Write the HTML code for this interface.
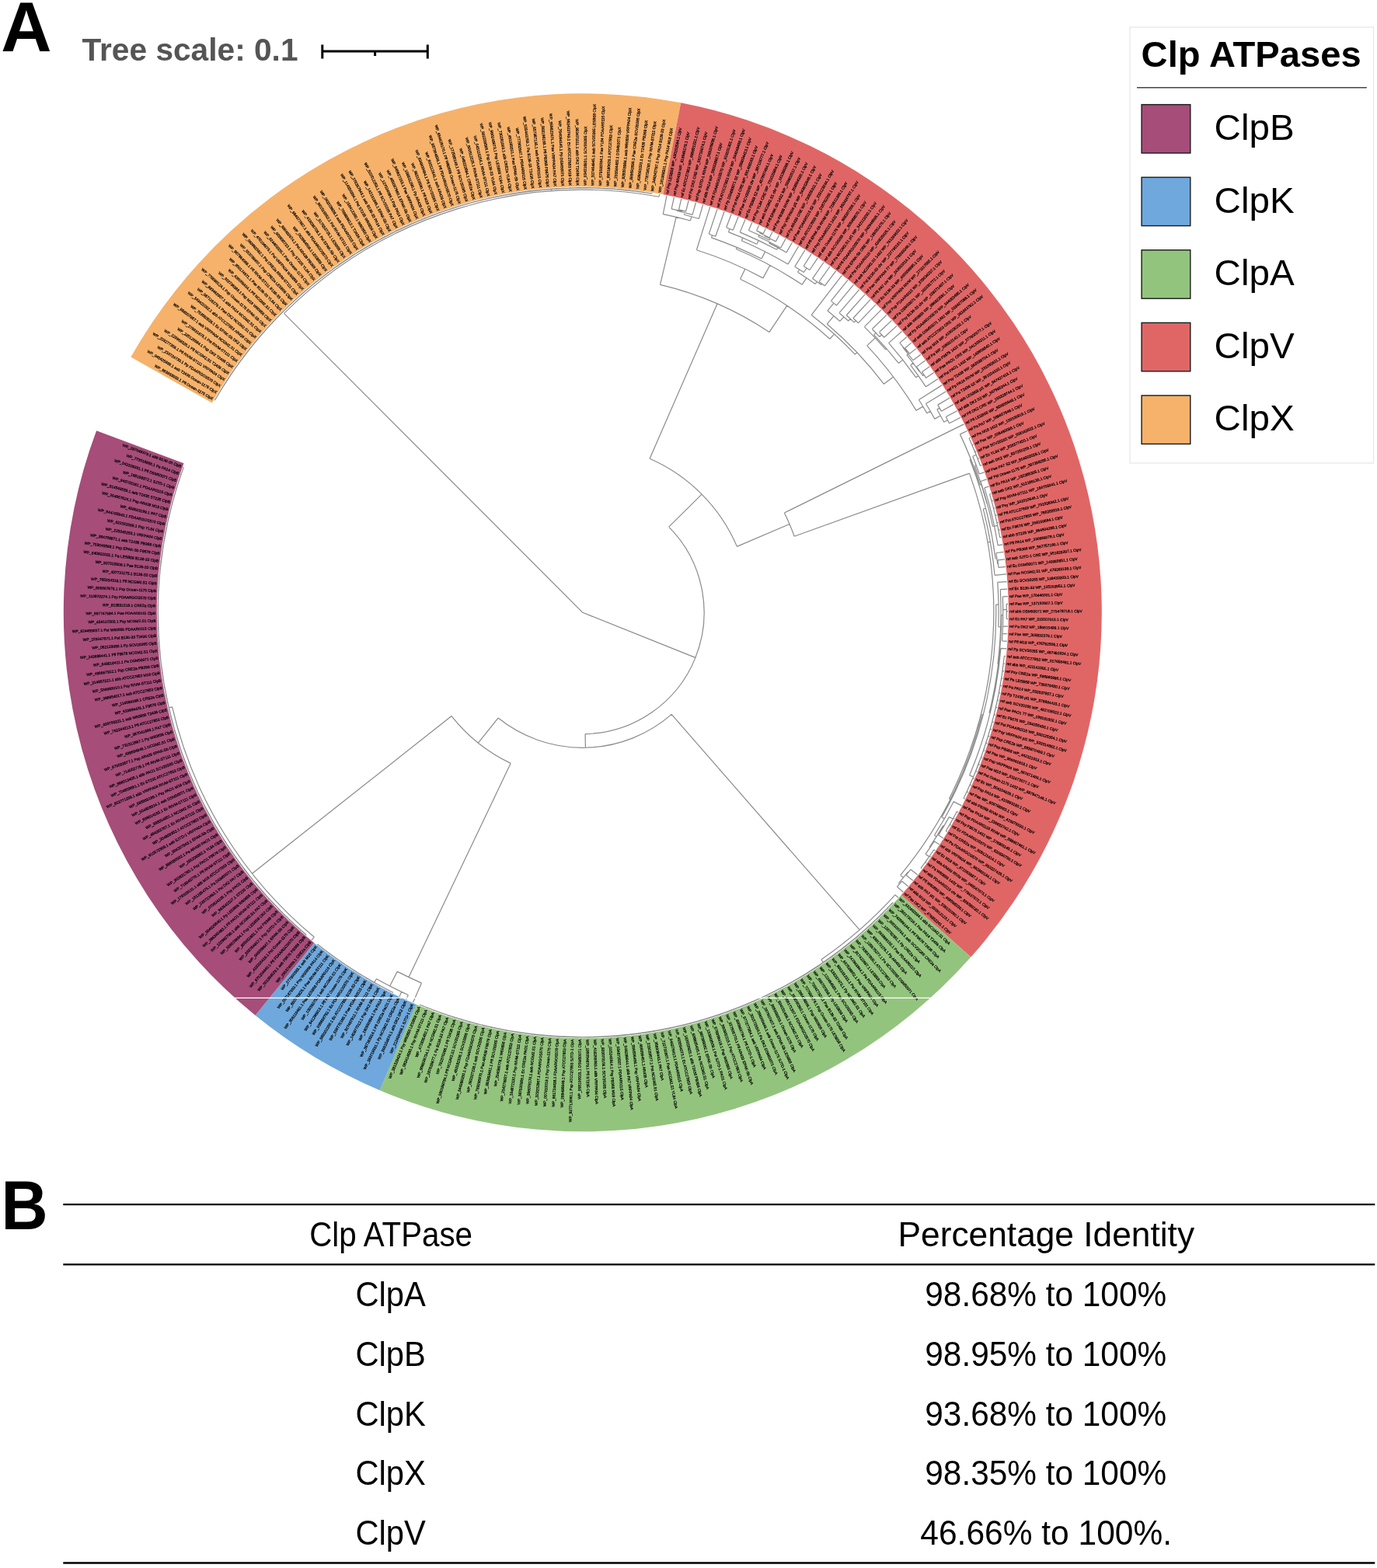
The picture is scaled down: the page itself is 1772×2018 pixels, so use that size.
<!DOCTYPE html>
<html><head><meta charset="utf-8"><title>Clp ATPases phylogeny</title>
<style>
html,body{margin:0;padding:0;background:#fff;}
body{width:1772px;height:2018px;overflow:hidden;position:relative;font-family:"Liberation Sans",Arial,sans-serif;}
svg{position:absolute;left:0;top:0;}
</style></head><body>
<svg width="1772" height="2018" viewBox="0 0 1772 2018">
<g id="ring">
<path d="M168.39,459.39 A668,668 0 0 1 876.17,132.36 L853.47,250.2 A548,548 0 0 0 272.83,518.48 Z" fill="#F6B26B"/>
<path d="M876.17,132.36 A668,668 0 0 1 1249.37,1231.76 L1159.63,1152.09 A548,548 0 0 0 853.47,250.2 Z" fill="#E06666"/>
<path d="M1249.37,1231.76 A668,668 0 0 1 488.76,1403.18 L535.65,1292.73 A548,548 0 0 0 1159.63,1152.09 Z" fill="#93C47D"/>
<path d="M488.76,1403.18 A668,668 0 0 1 328.56,1306.74 L404.23,1213.6 A548,548 0 0 0 535.65,1292.73 Z" fill="#6FA8DC"/>
<path d="M328.56,1306.74 A668,668 0 0 1 124.11,554.33 L236.51,596.36 A548,548 0 0 0 404.23,1213.6 Z" fill="#A64D79"/>
</g>
<path id="tree" d="M749.8 788.3L365.47 403.3M365.47 403.3A544 544 0 0 1 848.02 253.24M709.79 245.77L709.61 243.28M582.45 268.05A546.5 546.5 0 0 1 839.03 249.13M369.79 395.54A546.5 546.5 0 0 1 829.55 247.65M276.52 515.05A546.5 546.5 0 0 1 492.31 306.26M276.52 515.05L275.82 514.65M281.39 506.78A546.5 546.5 0 0 1 776.27 242.44M281.39 506.78L280.7 506.37M732.32 242.08A546.5 546.5 0 0 1 820.05 246.33M654.47 250.18A546.5 546.5 0 0 1 810.52 245.18M514.83 294.89A546.5 546.5 0 0 1 800.98 244.2M300.51 477.17A546.5 546.5 0 0 1 791.42 243.39M286.4 498.61A546.5 546.5 0 0 1 315.61 456.42M286.4 498.61L285.72 498.18M291.56 490.52A546.5 546.5 0 0 1 342.2 424.26M291.56 490.52L290.89 490.08M296.85 482.52A546.5 546.5 0 0 1 394.99 372.64M296.85 482.52L296.19 482.07M302.29 474.62A546.5 546.5 0 0 1 510.25 297.1M302.29 474.62L301.64 474.16M390.65 376.38A546.5 546.5 0 0 1 646.35 251.68M324.26 445.41A546.5 546.5 0 0 1 468.08 320.01M307.87 466.81A546.5 546.5 0 0 1 341.69 424.84M307.87 466.81L307.22 466.34M316.48 455.29A546.5 546.5 0 0 1 369.02 396.29M313.58 459.1A546.5 546.5 0 0 1 319.42 451.5M313.58 459.1L312.94 458.62M319.42 451.5L318.79 451M340.81 425.82A546.5 546.5 0 0 1 399.36 368.95M328.44 440.28A546.5 546.5 0 0 1 353.69 411.79M325.4 443.99A546.5 546.5 0 0 1 331.51 436.6M325.4 443.99L324.78 443.49M331.51 436.6L330.9 436.08M340.91 425.71A546.5 546.5 0 0 1 366.93 398.33M337.75 429.31A546.5 546.5 0 0 1 344.11 422.13M337.75 429.31L337.14 428.78M344.11 422.13L343.52 421.6M355.55 409.84A546.5 546.5 0 0 1 378.65 387.16M350.6 415.07A546.5 546.5 0 0 1 360.57 404.69M350.6 415.07L350.02 414.52M357.21 408.12A546.5 546.5 0 0 1 363.95 401.29M357.21 408.12L356.64 407.56M363.95 401.29L363.38 400.72M370.8 394.57A546.5 546.5 0 0 1 386.64 379.91M370.8 394.57L370.25 394M381.3 384.73A546.5 546.5 0 0 1 392.05 375.17M377.77 387.98A546.5 546.5 0 0 1 384.85 381.51M377.77 387.98L377.23 387.39M384.85 381.51L384.32 380.92M392.05 375.17L391.53 374.56M399.36 368.95L398.84 368.34M406.77 362.87A546.5 546.5 0 0 1 534.67 285.92M406.77 362.87L406.27 362.24M480.82 312.58A546.5 546.5 0 0 1 591.13 265.34M436.97 340.19A546.5 546.5 0 0 1 527.08 289.24M420 352.53A546.5 546.5 0 0 1 454.41 328.51M414.29 356.91A546.5 546.5 0 0 1 425.77 348.23M414.29 356.91L413.8 356.28M421.92 351.09A546.5 546.5 0 0 1 429.64 345.4M421.92 351.09L421.44 350.45M429.64 345.4L429.17 344.75M447.38 333.1A546.5 546.5 0 0 1 461.5 324.03M441.41 337.12A546.5 546.5 0 0 1 453.4 329.16M437.46 339.85A546.5 546.5 0 0 1 445.38 334.44M437.46 339.85L437.01 339.19M445.38 334.44L444.94 333.77M453.4 329.16L452.96 328.49M461.5 324.03L461.08 323.35M482.05 311.88A546.5 546.5 0 0 1 574 270.85M469.7 319.04A546.5 546.5 0 0 1 494.59 305.05M469.7 319.04L469.29 318.35M477.98 314.2A546.5 546.5 0 0 1 511.5 296.49M477.98 314.2L477.58 313.5M490.55 307.2A546.5 546.5 0 0 1 532.89 286.69M486.34 309.5A546.5 546.5 0 0 1 494.78 304.95M486.34 309.5L485.95 308.8M494.78 304.95L494.41 304.24M509.75 297.34A546.5 546.5 0 0 1 556.51 277.12M503.31 300.55A546.5 546.5 0 0 1 516.23 294.23M503.31 300.55L502.95 299.83M511.91 296.29A546.5 546.5 0 0 1 520.58 292.2M511.91 296.29L511.56 295.57M520.58 292.2L520.24 291.47M548.12 280.37A546.5 546.5 0 0 1 564.95 274.01M540.35 283.53A546.5 546.5 0 0 1 555.95 277.34M533.72 286.33A546.5 546.5 0 0 1 547.01 280.82M529.32 288.25A546.5 546.5 0 0 1 538.13 284.46M529.32 288.25L529 287.52M538.13 284.46L537.82 283.72M547.01 280.82L546.71 280.07M555.95 277.34L555.67 276.59M564.95 274.01L564.68 273.26M574 270.85L573.75 270.09M583.11 267.84A546.5 546.5 0 0 1 599.18 262.97M583.11 267.84L582.87 267.08M592.27 265A546.5 546.5 0 0 1 606.11 261.03M592.27 265L592.04 264.23M601.48 262.31A546.5 546.5 0 0 1 610.74 259.79M601.48 262.31L601.27 261.54M610.74 259.79L610.54 259.01M627.04 255.77A546.5 546.5 0 0 1 665.8 248.29M620.04 257.43A546.5 546.5 0 0 1 634.06 254.2M620.04 257.43L619.85 256.65M629.38 255.23A546.5 546.5 0 0 1 638.75 253.2M629.38 255.23L629.2 254.45M638.75 253.2L638.59 252.42M648.16 251.33A546.5 546.5 0 0 1 683.53 245.83M648.16 251.33L648.01 250.55M664.7 248.47A546.5 546.5 0 0 1 702.45 243.86M657.6 249.63A546.5 546.5 0 0 1 671.82 247.39M657.6 249.63L657.47 248.84M667.07 248.1A546.5 546.5 0 0 1 676.57 246.73M667.07 248.1L666.95 247.31M676.57 246.73L676.46 245.94M686.08 245.53A546.5 546.5 0 0 1 718.86 242.68M686.08 245.53L685.99 244.73M702.78 243.83A546.5 546.5 0 0 1 734.95 242M695.62 244.49A546.5 546.5 0 0 1 709.96 243.25M695.62 244.49L695.54 243.7M705.17 243.63A546.5 546.5 0 0 1 714.74 242.93M705.17 243.63L705.11 242.83M714.74 242.93L714.69 242.13M724.32 242.39A546.5 546.5 0 0 1 745.59 241.82M724.32 242.39L724.28 241.6M733.91 242.03A546.5 546.5 0 0 1 757.29 241.85M733.91 242.03L733.88 241.23M743.5 241.84A546.5 546.5 0 0 1 771.07 242.21M743.5 241.84L743.49 241.04M760.28 241.9A546.5 546.5 0 0 1 781.85 242.74M753.09 241.81A546.5 546.5 0 0 1 767.48 242.09M753.09 241.81L753.09 241.01M762.68 241.95A546.5 546.5 0 0 1 772.27 242.26M762.68 241.95L762.7 241.15M772.27 242.26L772.3 241.46M781.85 242.74L781.9 241.94M791.42 243.39L791.48 242.59M800.98 244.2L801.05 243.41M810.52 245.18L810.61 244.39M820.05 246.33L820.15 245.54M829.55 247.65L829.66 246.86M839.03 249.13L839.16 248.34M848.02 253.24L848.62 250M749.8 788.3L894.92 846.34M860.71 678.17A156.3 156.3 0 0 1 753.07 944.57M860.71 678.17L903.07 636.1M836.1 590.29A216 216 0 0 1 948.41 703.38M836.1 590.29L923 390.91M849.53 366.43A433.5 433.5 0 0 1 990.01 427.44M849.53 366.43L870.12 279.33M853.25 275.63A523 523 0 0 1 888.41 284M853.25 275.63L858.05 251.81M888.41 284L889.84 278.8M880.31 276.27A528.4 528.4 0 0 1 899.31 281.5M880.31 276.27L880.96 273.71M870.78 271.22A531.05 531.05 0 0 1 891.1 276.4M870.78 271.22L870.97 270.38M864.14 268.83A531.9 531.9 0 0 1 877.78 272.02M864.14 268.83L867.45 253.8M877.78 272.02L878.02 271.04M873.48 269.94A532.91 532.91 0 0 1 882.56 272.19M873.48 269.94L876.82 255.94M882.56 272.19L886.14 258.25M891.1 276.4L895.42 260.73M899.31 281.5L904.66 263.37M990.01 427.44L1012.73 393.31M952.58 359.31A474.5 474.5 0 0 1 1067.92 436.23M952.58 359.31L958.78 346.2M896.38 321.79A489 489 0 0 1 981.91 357.9M896.38 321.79L913.85 266.17M981.91 357.9L990.8 341.42M947.27 320.56A507.72 507.72 0 0 1 1032.14 366.32M947.27 320.56L948.21 318.33M915.47 305.81A510.14 510.14 0 0 1 980.02 333.06M915.47 305.81L916.53 302.74M912.26 301.29A513.39 513.39 0 0 1 920.79 304.22M912.26 301.29L922.99 269.13M920.79 304.22L932.08 272.25M980.02 333.06L984.66 323.89M954.27 309.73A520.42 520.42 0 0 1 1014.07 339.97M954.27 309.73L955.84 306.08M937.41 298.61A524.39 524.39 0 0 1 973.97 314.24M937.41 298.61L939.02 294.39M934.68 292.75A528.91 528.91 0 0 1 943.35 296.07M934.68 292.75L941.11 275.52M943.35 296.07L950.08 278.96M973.97 314.24L976.21 309.5M952.24 298.88A529.63 529.63 0 0 1 999.62 321.29M952.24 298.88L958.99 282.56M999.62 321.29L1000.97 318.77M989.7 312.91A532.49 532.49 0 0 1 1012.1 324.9M989.7 312.91L990.39 311.54M975.9 304.5A534.03 534.03 0 0 1 1004.66 319.01M975.9 304.5L976.82 302.52M963.42 296.48A536.21 536.21 0 0 1 990.06 308.93M963.42 296.48L967.83 286.31M990.06 308.93L990.98 307.1M983.56 303.45A538.25 538.25 0 0 1 998.34 310.86M983.56 303.45L983.85 302.85M977.44 299.81A538.92 538.92 0 0 1 990.22 305.97M977.44 299.81L977.89 298.84M973.59 296.86A540 540 0 0 1 982.18 300.86M973.59 296.86L976.61 290.21M982.18 300.86L985.32 294.27M990.22 305.97L993.95 298.48M998.34 310.86L1002.52 302.84M1004.66 319.01L1011 307.35M1012.1 324.9L1019.4 312.01M1014.07 339.97L1027.72 316.81M1032.14 366.32L1037.93 357.67M1026.49 350.23A518.14 518.14 0 0 1 1049.17 365.4M1026.49 350.23L1028.67 346.78M1022.84 343.14A522.22 522.22 0 0 1 1034.46 350.49M1022.84 343.14L1035.95 321.76M1034.46 350.49L1038.05 344.97M1034.15 342.45A528.81 528.81 0 0 1 1041.93 347.51M1034.15 342.45L1044.1 326.86M1041.93 347.51L1052.15 332.1M1049.17 365.4L1051.2 362.53M1045.57 358.6A521.65 521.65 0 0 1 1056.78 366.53M1045.57 358.6L1060.11 337.47M1056.78 366.53L1057.72 365.25M1053.99 362.56A523.25 523.25 0 0 1 1061.42 367.97M1053.99 362.56L1067.98 342.99M1061.42 367.97L1075.74 348.64M1067.92 436.23L1073.62 429.93M1044.22 405.41A483 483 0 0 1 1100.36 456.04M1044.22 405.41L1083.41 354.43M1100.36 456.04L1102.92 453.62M1064.22 417.03A486.52 486.52 0 0 1 1137.38 494.22M1064.22 417.03L1073.04 406.62M1065.01 399.96A500.16 500.16 0 0 1 1080.92 413.44M1065.01 399.96L1072.94 390.2M1069.43 387.38A512.74 512.74 0 0 1 1076.42 393.05M1069.43 387.38L1090.97 360.35M1076.42 393.05L1098.43 366.41M1080.92 413.44L1085.89 407.82M1080 402.7A507.66 507.66 0 0 1 1091.69 413.02M1080 402.7L1105.79 372.59M1091.69 413.02L1094.2 410.27M1089.2 405.77A511.39 511.39 0 0 1 1099.15 414.83M1089.2 405.77L1113.03 378.91M1099.15 414.83L1101.24 412.6M1097.93 409.53A514.45 514.45 0 0 1 1104.53 415.7M1097.93 409.53L1120.16 385.34M1104.53 415.7L1127.17 391.91M1137.38 494.22L1149.58 484.96M1115.73 444.88A501.84 501.84 0 0 1 1179.07 528.36M1115.73 444.88L1126.34 434.92M1112.37 420.6A516.4 516.4 0 0 1 1139.75 449.77M1112.37 420.6L1134.07 398.59M1139.75 449.77L1140.91 448.76M1124.61 430.85A517.93 517.93 0 0 1 1156.35 467.41M1124.61 430.85L1127.13 428.44M1122.36 423.51A521.42 521.42 0 0 1 1131.84 433.44M1122.36 423.51L1140.85 405.4M1131.84 433.44L1134.61 430.86M1131.46 427.5A525.21 525.21 0 0 1 1137.74 434.25M1131.46 427.5L1147.51 412.32M1137.74 434.25L1154.05 419.36M1156.35 467.41L1161.82 463.1M1143.65 441.33A524.89 524.89 0 0 1 1178.78 485.83M1143.65 441.33L1160.47 426.51M1178.78 485.83L1181.85 483.66M1171.77 469.84A528.65 528.65 0 0 1 1191.48 497.8M1171.77 469.84L1175.08 467.34M1166.85 456.71A532.81 532.81 0 0 1 1183.05 478.17M1166.85 456.71L1168.47 455.42M1161.81 447.22A534.88 534.88 0 0 1 1174.96 463.75M1161.81 447.22L1162.35 446.78M1157.82 441.37A535.57 535.57 0 0 1 1166.81 452.24M1157.82 441.37L1166.75 433.78M1166.81 452.24L1167.53 451.65M1164.56 448A536.5 536.5 0 0 1 1170.47 455.33M1164.56 448L1172.91 441.15M1170.47 455.33L1178.94 448.63M1174.96 463.75L1184.84 456.21M1183.05 478.17L1183.54 477.81M1179.42 472.13A533.42 533.42 0 0 1 1187.59 483.55M1179.42 472.13L1190.6 463.9M1187.59 483.55L1189.1 482.5M1186.4 478.65A535.26 535.26 0 0 1 1191.77 486.37M1186.4 478.65L1196.22 471.69M1191.77 486.37L1201.71 479.57M1191.48 497.8L1207.06 487.55M1179.07 528.36L1187.72 523.13M1182.4 514.53A511.95 511.95 0 0 1 1192.87 531.83M1182.4 514.53L1212.27 495.63M1192.87 531.83L1197.28 529.27M1191.49 519.52A517.04 517.04 0 0 1 1202.86 539.15M1191.49 519.52L1217.34 503.79M1202.86 539.15L1210.32 535.05M1205.8 527A525.56 525.56 0 0 1 1214.69 543.17M1205.8 527L1209.08 525.13M1206.75 521.11A529.33 529.33 0 0 1 1211.37 529.17M1206.75 521.11L1222.26 512.04M1211.37 529.17L1227.04 520.37M1214.69 543.17L1219.42 540.68M1217.23 536.57A530.91 530.91 0 0 1 1221.58 544.81M1217.23 536.57L1231.66 528.79M1221.58 544.81L1236.15 537.29M948.41 703.38L1015.99 674.49M1009.35 660.06A289.5 289.5 0 0 1 1022.18 690.24M1009.35 660.06L1240.48 545.87M1022.18 690.24L1247.53 609.11M1247.53 609.11A529 529 0 0 1 1221.4 1027.95M1271.03 697.98L1274.36 697.4M1265.25 655.1A532.38 532.38 0 0 1 1280.01 740.3M1265.25 655.1L1268.51 654.25M1248.13 591.57A535.75 535.75 0 0 1 1281.05 718.97M1248.13 591.57L1249.39 591.07M1235.44 558.87A537.11 537.11 0 0 1 1261.2 624.11M1235.44 558.87L1244.66 554.52M1261.2 624.11L1262.84 623.59M1254.38 599.23A538.84 538.84 0 0 1 1270.14 648.32M1254.38 599.23L1256.13 598.57M1251.74 587.23A540.71 540.71 0 0 1 1260.27 610.01M1251.74 587.23L1256.18 585.45M1250.43 571.64A545.5 545.5 0 0 1 1261.55 599.42M1247.04 563.98A545.5 545.5 0 0 1 1253.7 579.36M1247.04 563.98L1248.68 563.24M1250.9 572.74A545.5 545.5 0 0 1 1256.4 586.01M1250.9 572.74L1252.56 572.03M1254.61 581.57A545.5 545.5 0 0 1 1258.16 590.46M1254.61 581.57L1256.28 580.89M1258.16 590.46L1259.84 589.81M1261.55 599.42L1263.24 598.79M1260.27 610.01L1266.49 607.83M1270.14 648.32L1270.51 648.22M1261.91 619.46A539.22 539.22 0 0 1 1277.5 677.41M1261.91 619.46L1269.58 616.93M1277.5 677.41L1279.57 676.98M1273.81 652.41A541.34 541.34 0 0 1 1284.18 701.79M1266.81 627.85A541.34 541.34 0 0 1 1279.63 677.27M1266.81 627.85L1272.51 626.08M1279.63 677.27L1283.7 676.42M1280.29 661.23A545.5 545.5 0 0 1 1286.68 691.69M1276.77 647.31A545.5 545.5 0 0 1 1283.46 675.25M1274.86 640.39A545.5 545.5 0 0 1 1278.58 654.26M1273.55 635.78A545.5 545.5 0 0 1 1276.14 645M1273.55 635.78L1275.27 635.28M1276.14 645L1277.88 644.53M1278.58 654.26L1280.32 653.82M1281.92 668.23A545.5 545.5 0 0 1 1284.9 682.28M1280.85 663.56A545.5 545.5 0 0 1 1282.95 672.9M1280.85 663.56L1282.6 663.15M1282.95 672.9L1284.71 672.52M1284.9 682.28L1286.66 681.93M1286.68 691.69L1288.45 691.37M1284.18 701.79L1290.07 700.84M1281.05 718.97L1282.87 718.73M1281.91 711.72A537.59 537.59 0 0 1 1283.74 725.76M1281.91 711.72L1291.52 710.34M1283.74 725.76L1284.51 725.67M1283.94 720.97A538.37 538.37 0 0 1 1285.04 730.36M1283.94 720.97L1292.8 719.86M1285.04 730.36L1293.92 729.4M1280.01 740.3L1294.87 738.96M1221.4 1027.95L1222.81 1028.66M1263.95 919.28A530.57 530.57 0 0 1 1158.71 1126.38M1263.95 919.28L1265.31 919.63M1281.68 778.1A531.97 531.97 0 0 1 1211.97 1051.73M1281.68 778.1L1285.02 778.04M1283.7 749.4A535.32 535.32 0 0 1 1284.8 806.7M1283.7 749.4L1295.65 748.53M1284.8 806.7L1287.75 806.8M1287.25 758.62A538.27 538.27 0 0 1 1283.94 854.83M1287.25 758.62L1296.27 758.12M1283.94 854.83L1284.6 854.91M1288.72 791.53A538.93 538.93 0 0 1 1273.05 917.36M1288.72 791.53L1290.68 791.54M1290.31 767.96A540.89 540.89 0 0 1 1290.02 815.12M1290.31 767.96L1296.71 767.72M1290.42 805.34A540.89 540.89 0 0 1 1289.45 824.89M1290.64 795.25A540.89 540.89 0 0 1 1290.01 815.42M1290.68 784.57A540.89 540.89 0 0 1 1290.4 805.93M1290.68 784.57L1295.29 784.54M1295.19 777.36A545.5 545.5 0 0 1 1295.29 791.72M1295.19 777.36L1296.99 777.32M1295.3 786.93A545.5 545.5 0 0 1 1295.24 796.51M1295.3 786.93L1297.1 786.93M1295.24 796.51L1297.04 796.53M1290.4 805.93L1296.81 806.14M1290.01 815.42L1296.41 815.74M1289.45 824.89L1295.85 825.33M1273.05 917.36L1274.21 917.65M1287.97 834.3A540.13 540.13 0 0 1 1247.63 997.83M1287.97 834.3L1295.11 834.91M1247.63 997.83L1252.58 999.92M1263.54 971.7A545.5 545.5 0 0 1 1240.07 1027.48M1278.42 922.97A545.5 545.5 0 0 1 1244.19 1018.84M1292.42 844.29A545.5 545.5 0 0 1 1253.06 998.77M1292.42 844.29L1294.21 844.47M1257.71 987.3A545.5 545.5 0 0 1 1248.16 1010.12M1263.04 973.1A545.5 545.5 0 0 1 1251.98 1001.34M1269.7 953.44A545.5 545.5 0 0 1 1255.64 992.5M1278.48 922.72A545.5 545.5 0 0 1 1259.15 983.59M1289.22 869.5A545.5 545.5 0 0 1 1262.5 974.61M1291.35 853.8A545.5 545.5 0 0 1 1286.64 885.13M1291.35 853.8L1293.14 854.02M1290.12 863.3A545.5 545.5 0 0 1 1282.27 906.8M1290.12 863.3L1291.9 863.55M1288.72 872.77A545.5 545.5 0 0 1 1273.68 940.34M1288.72 872.77L1290.5 873.05M1280.44 914.74A545.5 545.5 0 0 1 1265.69 965.59M1283.77 899.85A545.5 545.5 0 0 1 1276.7 929.54M1285.87 889.28A545.5 545.5 0 0 1 1281.47 910.37M1287.15 882.22A545.5 545.5 0 0 1 1284.5 896.33M1287.15 882.22L1288.93 882.53M1285.42 891.63A545.5 545.5 0 0 1 1283.53 901.02M1285.42 891.63L1287.19 891.98M1283.53 901.02L1285.29 901.39M1281.47 910.37L1283.22 910.77M1279.24 919.68A545.5 545.5 0 0 1 1273.97 939.34M1279.24 919.68L1280.99 920.12M1276.85 928.96A545.5 545.5 0 0 1 1270.89 949.66M1276.85 928.96L1278.59 929.42M1272.97 942.78A545.5 545.5 0 0 1 1268.72 956.5M1274.3 938.19A545.5 545.5 0 0 1 1271.59 947.37M1274.3 938.19L1276.03 938.68M1271.59 947.37L1273.31 947.89M1268.72 956.5L1270.43 957.06M1265.69 965.59L1267.39 966.17M1262.5 974.61L1264.19 975.23M1259.15 983.59L1260.83 984.23M1255.64 992.5L1257.31 993.17M1251.98 1001.34L1253.64 1002.05M1248.16 1010.12L1249.81 1010.86M1244.19 1018.84L1245.82 1019.6M1240.07 1027.48L1241.69 1028.27M1211.97 1051.73L1215.3 1053.63M1227.16 1031.65A535.81 535.81 0 0 1 1202.43 1075.04M1227.16 1031.65L1237.4 1036.87M1202.43 1075.04L1205.08 1076.72M1213.72 1062.6A538.94 538.94 0 0 1 1196 1090.57M1213.72 1062.6L1214.69 1063.17M1221.48 1051.36A540.07 540.07 0 0 1 1207.61 1074.82M1221.48 1051.36L1226.22 1054M1231.37 1044.54A545.5 545.5 0 0 1 1220.88 1063.36M1231.37 1044.54L1232.96 1045.39M1224.46 1057.13A545.5 545.5 0 0 1 1217.22 1069.53M1226.8 1052.96A545.5 545.5 0 0 1 1222.08 1061.29M1226.8 1052.96L1228.37 1053.83M1222.08 1061.29L1223.64 1062.19M1217.22 1069.53L1218.76 1070.46M1207.61 1074.82L1213.73 1078.65M1196 1090.57L1196.7 1091.04M1202.27 1082.65A539.79 539.79 0 0 1 1190.97 1099.32M1202.27 1082.65L1208.57 1086.75M1190.97 1099.32L1195.64 1102.61M1201.76 1093.75A545.5 545.5 0 0 1 1189.35 1111.36M1201.76 1093.75L1203.26 1094.76M1193.57 1105.54A545.5 545.5 0 0 1 1185.06 1117.11M1196.33 1101.63A545.5 545.5 0 0 1 1190.76 1109.42M1196.33 1101.63L1197.81 1102.67M1190.76 1109.42L1192.22 1110.48M1185.06 1117.11L1186.5 1118.2M1158.71 1126.38L1162.52 1129.53M1168.45 1122.24A535.52 535.52 0 0 1 1156.47 1136.73M1168.45 1122.24L1168.96 1122.64M1171.88 1118.95A536.17 536.17 0 0 1 1166.01 1126.31M1171.88 1118.95L1180.64 1125.81M1166.01 1126.31L1174.65 1133.32M1156.47 1136.73L1157.54 1137.64M1160.59 1134.05A536.93 536.93 0 0 1 1154.46 1141.21M1160.59 1134.05L1168.53 1140.73M1154.46 1141.21L1162.28 1148.02M753.07 944.57L753.44 962.26M864.18 919.42A174 174 0 0 1 641.01 924.09M864.18 919.42L1106.1 1196.73M1151.97 1151.66A542 542 0 0 1 1056.76 1235M1151.97 1151.66L1155.9 1155.21M1056.76 1235L1059.31 1238.7M1148.81 1161.73A546.5 546.5 0 0 1 955.37 1294.66M1148.81 1161.73L1149.4 1162.28M1142.19 1168.68A546.5 546.5 0 0 1 733.61 1334.56M1142.19 1168.68L1142.77 1169.24M847 1326.09A546.5 546.5 0 0 1 620.92 1319.39M1030.62 1257.13A546.5 546.5 0 0 1 650.86 1325.77M1126.87 1183.88A546.5 546.5 0 0 1 920.61 1307.42M1132.04 1178.88A546.5 546.5 0 0 1 1121.63 1188.81M1135.46 1175.51A546.5 546.5 0 0 1 1128.6 1182.22M1135.46 1175.51L1136.02 1176.08M1128.6 1182.22L1129.16 1182.79M1121.63 1188.81L1122.17 1189.39M1022.93 1261.65A546.5 546.5 0 0 1 811.11 1331.35M1056.94 1240.33A546.5 546.5 0 0 1 987.45 1280.42M1100.44 1207.49A546.5 546.5 0 0 1 1010.39 1268.67M1110.96 1198.46A546.5 546.5 0 0 1 1089.69 1216.25M1114.54 1195.27A546.5 546.5 0 0 1 1107.34 1201.61M1114.54 1195.27L1115.08 1195.87M1107.34 1201.61L1107.87 1202.22M1100.03 1207.82A546.5 546.5 0 0 1 1079.14 1224.41M1100.03 1207.82L1100.55 1208.44M1088.87 1216.9A546.5 546.5 0 0 1 1069.25 1231.71M1092.61 1213.91A546.5 546.5 0 0 1 1085.09 1219.86M1092.61 1213.91L1093.12 1214.53M1085.09 1219.86L1085.58 1220.49M1077.46 1225.68A546.5 546.5 0 0 1 1060.93 1237.59M1077.46 1225.68L1077.94 1226.32M1069.74 1231.36A546.5 546.5 0 0 1 1051.99 1243.65M1069.74 1231.36L1070.21 1232.01M1057.96 1239.63A546.5 546.5 0 0 1 1045.97 1247.59M1061.91 1236.91A546.5 546.5 0 0 1 1053.99 1242.32M1061.91 1236.91L1062.37 1237.56M1053.99 1242.32L1054.43 1242.98M1045.97 1247.59L1046.41 1248.26M1020.35 1263.13A546.5 546.5 0 0 1 1000.32 1274M1027.61 1258.92A546.5 546.5 0 0 1 1013.02 1267.23M1033.78 1255.22A546.5 546.5 0 0 1 1021.39 1262.54M1037.87 1252.71A546.5 546.5 0 0 1 1029.67 1257.7M1037.87 1252.71L1038.29 1253.39M1029.67 1257.7L1030.08 1258.39M1021.39 1262.54L1021.78 1263.23M1013.02 1267.23L1013.41 1267.93M1004.57 1271.78A546.5 546.5 0 0 1 996.05 1276.18M1004.57 1271.78L1004.95 1272.49M996.05 1276.18L996.41 1276.89M987.45 1280.42L987.79 1281.14M957.24 1293.9A546.5 546.5 0 0 1 660.3 1327.42M974.41 1286.51A546.5 546.5 0 0 1 939.82 1300.7M978.77 1284.52A546.5 546.5 0 0 1 970.03 1288.46M978.77 1284.52L979.11 1285.25M970.03 1288.46L970.35 1289.19M956.78 1294.09A546.5 546.5 0 0 1 922.65 1306.75M961.21 1292.25A546.5 546.5 0 0 1 952.34 1295.88M961.21 1292.25L961.52 1292.99M952.34 1295.88L952.63 1296.63M943.39 1299.36A546.5 546.5 0 0 1 901.62 1313.29M943.39 1299.36L943.68 1300.11M927.61 1305.07A546.5 546.5 0 0 1 875.25 1320.21M934.39 1302.68A546.5 546.5 0 0 1 920.79 1307.36M934.39 1302.68L934.66 1303.43M925.34 1305.84A546.5 546.5 0 0 1 916.23 1308.84M925.34 1305.84L925.59 1306.6M916.23 1308.84L916.47 1309.6M902.46 1313.04A546.5 546.5 0 0 1 847.7 1325.96M907.06 1311.68A546.5 546.5 0 0 1 897.85 1314.36M907.06 1311.68L907.29 1312.45M897.85 1314.36L898.07 1315.13M888.6 1316.88A546.5 546.5 0 0 1 806.23 1331.88M888.6 1316.88L888.8 1317.65M879.3 1319.24A546.5 546.5 0 0 1 732.13 1334.51M879.3 1319.24L879.49 1320.01M794.71 1332.95A546.5 546.5 0 0 1 669.78 1328.91M869.96 1321.43A546.5 546.5 0 0 1 718.6 1333.91M869.96 1321.43L870.13 1322.21M758.08 1334.74A546.5 546.5 0 0 1 679.28 1330.23M827.22 1329.29A546.5 546.5 0 0 1 688.81 1331.39M855.88 1324.41A546.5 546.5 0 0 1 798.34 1332.64M860.58 1323.45A546.5 546.5 0 0 1 851.17 1325.32M860.58 1323.45L860.74 1324.24M851.17 1325.32L851.32 1326.1M827.51 1329.25A546.5 546.5 0 0 1 769.02 1334.46M837 1327.8A546.5 546.5 0 0 1 818.01 1330.53M841.73 1327.01A546.5 546.5 0 0 1 832.26 1328.54M841.73 1327.01L841.86 1327.8M832.26 1328.54L832.38 1329.33M822.76 1329.91A546.5 546.5 0 0 1 813.24 1331.1M822.76 1329.91L822.87 1330.7M813.24 1331.1L813.34 1331.9M798.93 1332.59A546.5 546.5 0 0 1 739.04 1334.69M803.71 1332.13A546.5 546.5 0 0 1 794.15 1333M803.71 1332.13L803.79 1332.93M794.15 1333L794.22 1333.79M769.62 1334.44A546.5 546.5 0 0 1 708.5 1333.24M784.59 1333.69A546.5 546.5 0 0 1 754.63 1334.78M784.59 1333.69L784.64 1334.49M763.02 1334.64A546.5 546.5 0 0 1 746.24 1334.79M770.21 1334.42A546.5 546.5 0 0 1 755.83 1334.77M775.01 1334.22A546.5 546.5 0 0 1 765.42 1334.58M775.01 1334.22L775.04 1335.02M765.42 1334.58L765.44 1335.38M755.83 1334.77L755.84 1335.57M746.24 1334.79L746.23 1335.59M718.67 1333.91A546.5 546.5 0 0 1 698.35 1332.37M729.45 1334.42A546.5 546.5 0 0 1 707.91 1333.19M736.65 1334.64A546.5 546.5 0 0 1 722.27 1334.11M736.65 1334.64L736.63 1335.44M727.06 1334.33A546.5 546.5 0 0 1 717.48 1333.84M727.06 1334.33L727.02 1335.13M717.48 1333.84L717.43 1334.64M707.91 1333.19L707.84 1333.99M698.35 1332.37L698.27 1333.17M688.81 1331.39L688.72 1332.18M679.28 1330.23L679.18 1331.02M669.78 1328.91L669.66 1329.7M660.3 1327.42L660.17 1328.21M650.86 1325.77L650.71 1326.56M641.44 1323.95A546.5 546.5 0 0 1 600.59 1314.04M641.44 1323.95L641.28 1324.73M632.05 1321.96A546.5 546.5 0 0 1 569.65 1304.25M632.05 1321.96L631.88 1322.75M599.22 1313.65A546.5 546.5 0 0 1 540.66 1293.2M615.72 1318.1A546.5 546.5 0 0 1 582.87 1308.68M622.7 1319.82A546.5 546.5 0 0 1 608.75 1316.28M622.7 1319.82L622.52 1320.59M613.39 1317.5A546.5 546.5 0 0 1 604.12 1315.03M613.39 1317.5L613.19 1318.28M604.12 1315.03L603.91 1315.8M594.9 1312.39A546.5 546.5 0 0 1 570.92 1304.7M594.9 1312.39L594.67 1313.16M581.16 1308.13A546.5 546.5 0 0 1 560.76 1301.06M585.73 1309.59A546.5 546.5 0 0 1 576.6 1306.63M585.73 1309.59L585.49 1310.35M576.6 1306.63L576.35 1307.39M567.53 1303.51A546.5 546.5 0 0 1 554.03 1298.53M567.53 1303.51L567.26 1304.26M558.51 1300.23A546.5 546.5 0 0 1 549.56 1296.79M558.51 1300.23L558.23 1300.98M549.56 1296.79L549.26 1297.54M540.66 1293.2L540.36 1293.94M641.01 924.09L615.37 956.09M657.24 982.36A215 215 0 0 1 581.07 921.55M581.07 921.55L324.45 1124.22M404.33 1205.93A542 542 0 0 1 221.63 909.94M404.33 1205.93L400.95 1210.02M221.63 909.94L217.24 910.95M272.35 1054.2A546.5 546.5 0 0 1 204.14 758.02M377.44 1188.31A546.5 546.5 0 0 1 213.67 894.24M394.13 1203.22A546.5 546.5 0 0 1 361.37 1172.73M394.13 1203.22L393.61 1203.83M378.02 1188.85A546.5 546.5 0 0 1 345.41 1155.91M383.33 1193.71A546.5 546.5 0 0 1 372.78 1183.92M386.9 1196.91A546.5 546.5 0 0 1 379.78 1190.48M386.9 1196.91L386.37 1197.51M379.78 1190.48L379.24 1191.07M372.78 1183.92L372.23 1184.5M365.89 1177.25A546.5 546.5 0 0 1 326.12 1133.49M365.89 1177.25L365.33 1177.81M359.13 1170.45A546.5 546.5 0 0 1 296.6 1093.7M359.13 1170.45L358.55 1171.01M352.48 1163.53A546.5 546.5 0 0 1 252.85 1015.69M352.48 1163.53L351.9 1164.08M313.3 1117.13A546.5 546.5 0 0 1 215.61 903.64M341.14 1151.15A546.5 546.5 0 0 1 288.28 1080.98M345.95 1156.5A546.5 546.5 0 0 1 336.4 1145.74M345.95 1156.5L345.36 1157.04M339.55 1149.35A546.5 546.5 0 0 1 333.28 1142.1M339.55 1149.35L338.95 1149.88M333.28 1142.1L332.67 1142.61M320.37 1126.32A546.5 546.5 0 0 1 260.95 1032.62M327.13 1134.73A546.5 546.5 0 0 1 313.78 1117.77M327.13 1134.73L326.51 1135.24M318.16 1123.48A546.5 546.5 0 0 1 309.48 1112M321.12 1127.26A546.5 546.5 0 0 1 315.23 1119.68M321.12 1127.26L320.49 1127.75M315.23 1119.68L314.6 1120.17M309.48 1112L308.84 1112.48M295.04 1091.38A546.5 546.5 0 0 1 234.42 970.08M301.11 1100.3A546.5 546.5 0 0 1 289.14 1082.34M303.87 1104.22A546.5 546.5 0 0 1 298.39 1096.35M303.87 1104.22L303.22 1104.69M298.39 1096.35L297.73 1096.8M293.06 1088.38A546.5 546.5 0 0 1 285.31 1076.25M293.06 1088.38L292.39 1088.82M287.86 1080.31A546.5 546.5 0 0 1 282.8 1072.16M287.86 1080.31L287.18 1080.74M282.8 1072.16L282.12 1072.58M257.23 1025.01A546.5 546.5 0 0 1 217.72 913M275.49 1059.77A546.5 546.5 0 0 1 241.5 989.04M277.89 1063.92A546.5 546.5 0 0 1 273.13 1055.59M277.89 1063.92L277.2 1064.32M273.13 1055.59L272.43 1055.99M255.29 1020.95A546.5 546.5 0 0 1 229.77 956.31M264.59 1039.76A546.5 546.5 0 0 1 246.73 1001.8M268.51 1047.19A546.5 546.5 0 0 1 260.79 1032.28M268.51 1047.19L267.81 1047.57M264.04 1038.7A546.5 546.5 0 0 1 257.62 1025.82M264.04 1038.7L263.33 1039.07M259.72 1030.13A546.5 546.5 0 0 1 255.55 1021.49M259.72 1030.13L259 1030.49M255.55 1021.49L254.83 1021.84M249.58 1008.4A546.5 546.5 0 0 1 243.96 995.16M251.53 1012.78A546.5 546.5 0 0 1 247.67 1004M251.53 1012.78L250.8 1013.11M247.67 1004L246.93 1004.32M243.96 995.16L243.22 995.46M236.19 975.02A546.5 546.5 0 0 1 224.03 937.37M238.69 981.77A546.5 546.5 0 0 1 233.77 968.24M240.41 986.24A546.5 546.5 0 0 1 237.01 977.27M240.41 986.24L239.66 986.53M237.01 977.27L236.26 977.55M233.77 968.24L233.02 968.51M227.07 947.73A546.5 546.5 0 0 1 221.18 926.96M229.22 954.6A546.5 546.5 0 0 1 225.02 940.83M230.7 959.16A546.5 546.5 0 0 1 227.78 950.02M230.7 959.16L229.94 959.41M227.78 950.02L227.01 950.26M225.02 940.83L224.25 941.06M222.42 931.6A546.5 546.5 0 0 1 219.99 922.32M222.42 931.6L221.65 931.81M219.99 922.32L219.21 922.51M217.72 913L216.94 913.18M215.61 903.64L214.83 903.81M213.67 894.24L212.88 894.4M204.8 828.71A546.5 546.5 0 0 1 212.61 687.85M209.74 871.96A546.5 546.5 0 0 1 203.31 785.2M211.89 884.82A546.5 546.5 0 0 1 207.9 859.05M211.89 884.82L211.1 884.96M209.54 870.62A546.5 546.5 0 0 1 206.51 847.44M210.28 875.36A546.5 546.5 0 0 1 208.83 865.88M210.28 875.36L209.49 875.49M208.83 865.88L208.04 865.99M207.56 856.37A546.5 546.5 0 0 1 205.61 838.49M207.56 856.37L206.76 856.47M206.44 846.84A546.5 546.5 0 0 1 204.9 830.13M206.44 846.84L205.65 846.93M205.5 837.3A546.5 546.5 0 0 1 204.4 822.95M205.5 837.3L204.7 837.37M204.72 827.73A546.5 546.5 0 0 1 204.12 818.16M204.72 827.73L203.93 827.79M204.12 818.16L203.32 818.2M203.43 800.19A546.5 546.5 0 0 1 203.6 770.21M203.68 808.58A546.5 546.5 0 0 1 203.31 791.79M203.68 808.58L202.88 808.61M203.4 798.99A546.5 546.5 0 0 1 203.31 784.6M203.4 798.99L202.6 799M203.3 789.4A546.5 546.5 0 0 1 203.37 779.8M203.3 789.4L202.5 789.4M203.37 779.8L202.57 779.79M203.6 770.21L202.8 770.19M204.26 755.84A546.5 546.5 0 0 1 229.4 621.44M204 760.63A546.5 546.5 0 0 1 204.57 751.05M204 760.63L203.2 760.59M204.57 751.05L203.77 751M223.32 641.74A546.5 546.5 0 0 1 236.26 601.39M215.48 673.58A546.5 546.5 0 0 1 233.06 610.43M207.37 721.7A546.5 546.5 0 0 1 227.84 626.38M205.31 741.49A546.5 546.5 0 0 1 210.16 702M205.31 741.49L204.51 741.42M206.21 731.94A546.5 546.5 0 0 1 215.75 672.32M206.21 731.94L205.42 731.86M210.85 697.78A546.5 546.5 0 0 1 221.85 647.12M208.2 715.27A546.5 546.5 0 0 1 214.06 680.39M207.29 722.41A546.5 546.5 0 0 1 209.21 708.15M207.29 722.41L206.49 722.31M208.53 712.89A546.5 546.5 0 0 1 209.93 703.4M208.53 712.89L207.73 712.78M209.93 703.4L209.14 703.28M211.51 693.94A546.5 546.5 0 0 1 216.95 666.91M211.51 693.94L210.72 693.8M214.66 677.45A546.5 546.5 0 0 1 219.45 656.41M213.25 684.51A546.5 546.5 0 0 1 216.17 670.42M213.25 684.51L212.46 684.36M215.15 675.11A546.5 546.5 0 0 1 217.22 665.74M215.15 675.11L214.37 674.94M217.22 665.74L216.44 665.56M219.45 656.41L218.68 656.22M221.85 647.12L221.08 646.91M225.75 633.27A546.5 546.5 0 0 1 230.01 619.53M224.41 637.87A546.5 546.5 0 0 1 227.13 628.68M224.41 637.87L223.64 637.65M227.13 628.68L226.37 628.44M230.01 619.53L229.25 619.28M233.06 610.43L232.3 610.17M236.26 601.39L235.51 601.11M657.24 982.36L525.93 1257.64M542.4 1265.15A520 520 0 0 1 511.3 1250.38M542.4 1265.15L531.51 1290.19M511.3 1250.38L501.67 1269.04M525.35 1280.54A541 541 0 0 1 500.44 1268.41M525.35 1280.54L522.74 1286.28M516.75 1276.53A541 541 0 0 1 484.42 1259.74M516.75 1276.53L514.03 1282.21M484.42 1259.74L481.73 1264.53M501.47 1275.12A546.5 546.5 0 0 1 462.43 1253.14M505.76 1277.28A546.5 546.5 0 0 1 497.21 1272.92M505.76 1277.28L505.4 1278M497.21 1272.92L496.84 1273.63M484.54 1266.11A546.5 546.5 0 0 1 440.95 1239.16M488.74 1268.42A546.5 546.5 0 0 1 480.36 1263.76M488.74 1268.42L488.36 1269.12M480.36 1263.76L479.96 1264.46M461.79 1252.75A546.5 546.5 0 0 1 420.75 1224.64M467.93 1256.5A546.5 546.5 0 0 1 455.7 1248.92M472.05 1258.96A546.5 546.5 0 0 1 463.83 1254.01M472.05 1258.96L471.65 1259.65M463.83 1254.01L463.42 1254.69M455.7 1248.92L455.27 1249.59M432.84 1233.5A546.5 546.5 0 0 1 408.91 1215.45M443.68 1241.02A546.5 546.5 0 0 1 422.19 1225.72M447.66 1243.69A546.5 546.5 0 0 1 439.72 1238.31M447.66 1243.69L447.22 1244.35M439.72 1238.31L439.26 1238.97M427.98 1229.99A546.5 546.5 0 0 1 416.46 1221.37M431.87 1232.8A546.5 546.5 0 0 1 424.11 1227.15M431.87 1232.8L431.4 1233.45M424.11 1227.15L423.64 1227.79M416.46 1221.37L415.97 1222M408.91 1215.45L408.41 1216.07" fill="none" stroke="#8a8a8a" stroke-width="1.2"/>
<g id="labels" font-family="Liberation Sans, Arial, sans-serif" font-weight="normal" font-size="4.9" fill="#000" stroke="#000" stroke-width="0.22">
<text transform="translate(273.92 513.55) rotate(390)" dy="1.6" text-anchor="end">WP_993363555.1 Pfl Ocean-1175 ClpX</text>
<text transform="translate(278.81 505.24) rotate(391.01)" dy="1.6" text-anchor="end">WP_945425699.1 aeb T2436 Ocean-1175 ClpX</text>
<text transform="translate(283.86 497.02) rotate(392.01)" dy="1.6" text-anchor="end">WP_210724730.1 Pp FDAARGOS570 ClpX</text>
<text transform="translate(289.04 488.88) rotate(393.02)" dy="1.6" text-anchor="end">WP_203277356.1 Pfl RIVM-ST111 VRFPA04 ClpX</text>
<text transform="translate(294.37 480.84) rotate(394.02)" dy="1.6" text-anchor="end">WP_229968326.1 Pfl NCGM2.S1 T2436 ClpX</text>
<text transform="translate(299.83 472.89) rotate(395.03)" dy="1.6" text-anchor="end">WP_225125684.1 Psp DK2 T2436 ClpX</text>
<text transform="translate(305.44 465.04) rotate(396.03)" dy="1.6" text-anchor="end">WP_276931675.1 Pst RIVM-ST111 ClpX</text>
<text transform="translate(311.18 457.29) rotate(397.04)" dy="1.6" text-anchor="end">WP_986007987.1 aeb VRFPA04 NCGM2.S1 ClpX</text>
<text transform="translate(317.06 449.65) rotate(398.05)" dy="1.6" text-anchor="end">WP_753660826.1 Ec EPAK-Sb DK2 ClpX</text>
<text transform="translate(323.07 442.1) rotate(399.05)" dy="1.6" text-anchor="end">WP_343421092.1 abb ATCC27853 AR439 ClpX</text>
<text transform="translate(329.21 434.67) rotate(400.06)" dy="1.6" text-anchor="end">WP_087116279.1 Pae DK2 NCGM2.S1 ClpX</text>
<text transform="translate(335.49 427.34) rotate(401.06)" dy="1.6" text-anchor="end">WP_883462907.1 abb PA14 NCGM2.S1 ClpX</text>
<text transform="translate(341.88 420.12) rotate(402.07)" dy="1.6" text-anchor="end">WP_770096124.1 Psp Ocean-1175 EPAK-Sb ClpX</text>
<text transform="translate(348.41 413.02) rotate(403.07)" dy="1.6" text-anchor="end">WP_302796988.1 Psp M18 W60856 ClpX</text>
<text transform="translate(355.06 406.03) rotate(404.08)" dy="1.6" text-anchor="end">WP_436068434.1 Pfl NCGM2.S1 ClpX</text>
<text transform="translate(361.83 399.16) rotate(405.09)" dy="1.6" text-anchor="end">WP_858174871.1 Pae B136-33 YL84 ClpX</text>
<text transform="translate(368.72 392.41) rotate(406.09)" dy="1.6" text-anchor="end">WP_967964069.1 Pfl RIVM-ST111 B136-33 ClpX</text>
<text transform="translate(375.73 385.78) rotate(407.1)" dy="1.6" text-anchor="end">WP_553788407.1 Psp CRE2a LESB58 ClpX</text>
<text transform="translate(382.85 379.28) rotate(408.1)" dy="1.6" text-anchor="end">WP_063862562.1 Pst CRE2a RIVM-ST111 ClpX</text>
<text transform="translate(390.09 372.9) rotate(409.11)" dy="1.6" text-anchor="end">WP_478104975.1 Pst VRFPA04 W60856 ClpX</text>
<text transform="translate(397.43 366.65) rotate(410.11)" dy="1.6" text-anchor="end">WP_624403335.1 Pae Ocean-1175 ClpX</text>
<text transform="translate(404.89 360.53) rotate(411.12)" dy="1.6" text-anchor="end">WP_026895723.1 Psy ST235 YL84 ClpX</text>
<text transform="translate(412.45 354.54) rotate(412.13)" dy="1.6" text-anchor="end">WP_396402674.1 Pst AR439 PB368 ClpX</text>
<text transform="translate(420.12 348.69) rotate(413.13)" dy="1.6" text-anchor="end">WP_062984509.1 LESB58 ClpX</text>
<text transform="translate(427.88 342.97) rotate(414.14)" dy="1.6" text-anchor="end">WP_984077697.1 abb FDAARGOS570 ClpX</text>
<text transform="translate(435.75 337.39) rotate(415.14)" dy="1.6" text-anchor="end">WP_419036708.1 Pst EPAK-Sb ClpX</text>
<text transform="translate(443.71 331.94) rotate(416.15)" dy="1.6" text-anchor="end">WP_517553725.1 LESB58 ClpX</text>
<text transform="translate(451.77 326.64) rotate(417.16)" dy="1.6" text-anchor="end">WP_861515652.1 Pst RIVM-ST111 ClpX</text>
<text transform="translate(459.92 321.48) rotate(418.16)" dy="1.6" text-anchor="end">WP_063209938.1 aeb PDAAR0115 ClpX</text>
<text transform="translate(468.16 316.47) rotate(419.17)" dy="1.6" text-anchor="end">WP_766886612.1 T2436 ClpX</text>
<text transform="translate(476.48 311.59) rotate(420.17)" dy="1.6" text-anchor="end">WP_156412290.1 W60856 ClpX</text>
<text transform="translate(484.89 306.87) rotate(421.18)" dy="1.6" text-anchor="end">WP_114550364.1 Pst ST235 W60856 ClpX</text>
<text transform="translate(493.38 302.29) rotate(422.18)" dy="1.6" text-anchor="end">WP_276357643.1 aeb B136-33 PA14 ClpX</text>
<text transform="translate(501.95 297.87) rotate(423.19)" dy="1.6" text-anchor="end">WP_142131845.1 EPAK-Sb ClpX</text>
<text transform="translate(510.6 293.59) rotate(424.2)" dy="1.6" text-anchor="end">WP_522612253.1 Pfl SCV20265 PA7 ClpX</text>
<text transform="translate(519.32 289.47) rotate(425.2)" dy="1.6" text-anchor="end">WP_127024089.1 Psp PA14 ClpX</text>
<text transform="translate(528.11 285.5) rotate(426.21)" dy="1.6" text-anchor="end">WP_465097660.1 EPAK-Sb ClpX</text>
<text transform="translate(536.97 281.69) rotate(427.21)" dy="1.6" text-anchor="end">WP_945627153.1 Pae VRFPA04 ClpX</text>
<text transform="translate(545.9 278.03) rotate(428.22)" dy="1.6" text-anchor="end">WP_106831290.1 Pp AR439 ClpX</text>
<text transform="translate(554.89 274.53) rotate(429.22)" dy="1.6" text-anchor="end">WP_962133590.1 Pfl M18 ClpX</text>
<text transform="translate(563.93 271.19) rotate(430.23)" dy="1.6" text-anchor="end">WP_834800494.1 Pfl SCV20265 ClpX</text>
<text transform="translate(573.04 268.01) rotate(431.24)" dy="1.6" text-anchor="end">WP_602112641.1 aeb AR439 ClpX</text>
<text transform="translate(582.2 264.98) rotate(432.24)" dy="1.6" text-anchor="end">WP_837364836.1 Pfl FDAARGOS570 ClpX</text>
<text transform="translate(591.41 262.12) rotate(433.25)" dy="1.6" text-anchor="end">WP_654429170.1 Pfl W60856 Ocean-1175 ClpX</text>
<text transform="translate(600.67 259.42) rotate(434.25)" dy="1.6" text-anchor="end">WP_172595148.1 Pfl SCV20265 ClpX</text>
<text transform="translate(609.98 256.89) rotate(435.26)" dy="1.6" text-anchor="end">WP_046222664.1 CRE2a ClpX</text>
<text transform="translate(619.33 254.51) rotate(436.26)" dy="1.6" text-anchor="end">WP_800512225.1 RIVM-ST111 ClpX</text>
<text transform="translate(628.71 252.31) rotate(437.27)" dy="1.6" text-anchor="end">WP_043115256.1 RIVM-ST111 ClpX</text>
<text transform="translate(638.14 250.26) rotate(438.28)" dy="1.6" text-anchor="end">WP_992238566.1 Psp B136-33 YL84 ClpX</text>
<text transform="translate(647.6 248.39) rotate(439.28)" dy="1.6" text-anchor="end">WP_980249873.1 Psp LESB58 YL84 ClpX</text>
<text transform="translate(657.1 246.68) rotate(440.29)" dy="1.6" text-anchor="end">WP_730281003.1 abb CRE2a YL84 ClpX</text>
<text transform="translate(666.62 245.13) rotate(441.29)" dy="1.6" text-anchor="end">WP_451089201.1 Pae EPAK-Sb ClpX</text>
<text transform="translate(676.16 243.76) rotate(442.3)" dy="1.6" text-anchor="end">WP_777802647.1 PDAAR0115 ClpX</text>
<text transform="translate(685.73 242.55) rotate(443.3)" dy="1.6" text-anchor="end">WP_525443759.1 Pa B136-33 T2436 ClpX</text>
<text transform="translate(695.32 241.51) rotate(444.31)" dy="1.6" text-anchor="end">WP_657387135.1 aeb PDAAR0115 ClpX</text>
<text transform="translate(704.93 240.64) rotate(445.32)" dy="1.6" text-anchor="end">WP_803196193.1 Pfl PB368 F9676 ClpX</text>
<text transform="translate(714.55 239.93) rotate(446.32)" dy="1.6" text-anchor="end">WP_559822471.1 Pae VRFPA04 PA7 ClpX</text>
<text transform="translate(724.18 239.4) rotate(447.33)" dy="1.6" text-anchor="end">WP_754094140.1 Pp DSM50071 ClpX</text>
<text transform="translate(733.82 239.03) rotate(448.33)" dy="1.6" text-anchor="end">WP_952423749.1 Ec ATCC27853 M18 ClpX</text>
<text transform="translate(743.46 238.84) rotate(449.34)" dy="1.6" text-anchor="end">WP_953471111.1 abb DK2 T2436 ClpX</text>
<text transform="translate(753.11 238.81) rotate(-89.66)" dy="1.6">WP_034316831.1 SCV20265 ClpX</text>
<text transform="translate(762.75 238.95) rotate(-88.65)" dy="1.6">WP_337464945.1 aeb SCV20265 LESB58 ClpX</text>
<text transform="translate(772.39 239.26) rotate(-87.64)" dy="1.6">WP_579181084.1 Pae YL84 PDAAR0115 ClpX</text>
<text transform="translate(782.03 239.75) rotate(-86.64)" dy="1.6">WP_895180629.1 ATCC27853 ClpX</text>
<text transform="translate(791.65 240.4) rotate(-85.63)" dy="1.6">WP_233564482.1 DSM50071 ClpX</text>
<text transform="translate(801.26 241.21) rotate(-84.63)" dy="1.6">WP_929353984.1 aeb W60856 VRFPA04 ClpX</text>
<text transform="translate(810.85 242.2) rotate(-83.62)" dy="1.6">WP_889692695.1 Pae CRE2a SCV20265 ClpX</text>
<text transform="translate(820.43 243.36) rotate(-82.61)" dy="1.6">WP_439663333.1 Ec T2436 PB368 ClpX</text>
<text transform="translate(829.99 244.68) rotate(-81.61)" dy="1.6">WP_778738293.1 Psy RIVM-ST111 ClpX</text>
<text transform="translate(839.51 246.17) rotate(-80.6)" dy="1.6">WP_346342787.1 Psp PA14 B136-33 ClpX</text>
<text transform="translate(849.02 247.83) rotate(-79.6)" dy="1.6">WP_191368301.1 Psy PA14 M18 ClpX</text>
<text transform="translate(858.49 249.66) rotate(-78.59)" dy="1.6">ref Psy LESB58 WP_430202584.1 ClpV</text>
<text transform="translate(867.93 251.65) rotate(-77.59)" dy="1.6">ref Psy AR439 WP_818645178.1 ClpV</text>
<text transform="translate(877.33 253.8) rotate(-76.58)" dy="1.6">ref Ec ATCC27853 WP_989801231.1 ClpV</text>
<text transform="translate(886.69 256.12) rotate(-75.57)" dy="1.6">ref Pst DK2 CRE WP_662715674.1 ClpV</text>
<text transform="translate(896.01 258.61) rotate(-74.57)" dy="1.6">ref Psp SJTD-1 RIVM WP_593376936.1 ClpV</text>
<text transform="translate(905.29 261.26) rotate(-73.56)" dy="1.6">ref abb PA14 WP_550328817.1 ClpV</text>
<text transform="translate(914.51 264.07) rotate(-72.56)" dy="1.6">ref Pfl FDAARGOS570 WP_919101301.1 ClpV</text>
<text transform="translate(923.69 267.04) rotate(-71.55)" dy="1.6">ref Pfl ATCC27853 RIVM WP_544048498.1 ClpV</text>
<text transform="translate(932.81 270.17) rotate(-70.55)" dy="1.6">ref Pp DSM50071 S2 WP_265034413.1 ClpV</text>
<text transform="translate(941.88 273.46) rotate(-69.54)" dy="1.6">ref Pst PA14 CRE WP_691468165.1 ClpV</text>
<text transform="translate(950.88 276.91) rotate(-68.53)" dy="1.6">ref Pae SCV20265 chr WP_387116777.1 ClpV</text>
<text transform="translate(959.83 280.52) rotate(-67.53)" dy="1.6">ref Ec PB368 S2 WP_457897494.1 ClpV</text>
<text transform="translate(968.71 284.29) rotate(-66.52)" dy="1.6">ref Psy YL84 CRE WP_731025864.1 ClpV</text>
<text transform="translate(977.52 288.21) rotate(-65.52)" dy="1.6">ref aeb NCGM2.S1 chr WP_161386298.1 ClpV</text>
<text transform="translate(986.27 292.28) rotate(-64.51)" dy="1.6">ref Pfl EPAK-Sb 1432 WP_593802517.1 ClpV</text>
<text transform="translate(994.94 296.51) rotate(-63.51)" dy="1.6">ref Psy PB368 RIVM WP_358594320.1 ClpV</text>
<text transform="translate(1003.53 300.89) rotate(-62.5)" dy="1.6">ref Psy VRFPA04 pl1 WP_543932649.1 ClpV</text>
<text transform="translate(1012.05 305.42) rotate(-61.49)" dy="1.6">ref Pp AR439 CRE WP_730556311.1 ClpV</text>
<text transform="translate(1020.48 310.09) rotate(-60.49)" dy="1.6">ref Pae PDAAR0115 S2 WP_233123244.1 ClpV</text>
<text transform="translate(1028.83 314.92) rotate(-59.48)" dy="1.6">ref Ec ATCC27853 WP_018732259.1 ClpV</text>
<text transform="translate(1037.1 319.89) rotate(-58.48)" dy="1.6">ref Pfl EPAK-Sb RIVM WP_729511396.1 ClpV</text>
<text transform="translate(1045.28 325) rotate(-57.47)" dy="1.6">ref Psy PDAAR0115 1432 WP_362424797.1 ClpV</text>
<text transform="translate(1053.37 330.26) rotate(-56.47)" dy="1.6">ref abb Ocean-1175 WP_988207208.1 ClpV</text>
<text transform="translate(1061.36 335.66) rotate(-55.46)" dy="1.6">ref abb SCV20265 WP_305988870.1 ClpV</text>
<text transform="translate(1069.26 341.2) rotate(-54.45)" dy="1.6">ref Pa NCGM2.S1 pl1 WP_542113292.1 ClpV</text>
<text transform="translate(1077.05 346.88) rotate(-53.45)" dy="1.6">ref Pfl FDAARGOS570 WP_042949595.1 ClpV</text>
<text transform="translate(1084.75 352.69) rotate(-52.44)" dy="1.6">ref Pst EPAK-Sb CRE WP_139051478.1 ClpV</text>
<text transform="translate(1092.35 358.63) rotate(-51.44)" dy="1.6">ref Pst PDAAR0115 WP_420825025.1 ClpV</text>
<text transform="translate(1099.84 364.71) rotate(-50.43)" dy="1.6">ref aeb NCGM2.S1 1432 WP_761299622.1 ClpV</text>
<text transform="translate(1107.22 370.92) rotate(-49.43)" dy="1.6">ref Pst B136-33 chr WP_227796131.1 ClpV</text>
<text transform="translate(1114.49 377.26) rotate(-48.42)" dy="1.6">ref Pae VRFPA04 77 WP_778393248.1 ClpV</text>
<text transform="translate(1121.65 383.73) rotate(-47.41)" dy="1.6">ref Pfl PA7 chr WP_243653314.1 ClpV</text>
<text transform="translate(1128.69 390.31) rotate(-46.41)" dy="1.6">ref Ec B136-33 WP_466608995.1 ClpV</text>
<text transform="translate(1135.62 397.03) rotate(-45.4)" dy="1.6">ref Psy VRFPA04 RIVM WP_271117085.1 ClpV</text>
<text transform="translate(1142.43 403.86) rotate(-44.4)" dy="1.6">ref Psp PDAAR0115 WP_379634237.1 ClpV</text>
<text transform="translate(1149.11 410.81) rotate(-43.39)" dy="1.6">ref Pa DSM50071 WP_181591772.1 ClpV</text>
<text transform="translate(1155.68 417.88) rotate(-42.39)" dy="1.6">ref Psy B136-33 chr WP_158271407.1 ClpV</text>
<text transform="translate(1162.12 425.06) rotate(-41.38)" dy="1.6">ref abb W60856 WP_896923581.1 ClpV</text>
<text transform="translate(1168.43 432.35) rotate(-40.37)" dy="1.6">ref Pp FDAARGOS570 WP_344053485.1 ClpV</text>
<text transform="translate(1174.61 439.75) rotate(-39.37)" dy="1.6">ref aeb DSM50071 1432 WP_018427088.1 ClpV</text>
<text transform="translate(1180.67 447.26) rotate(-38.36)" dy="1.6">ref aeb ATCC27853 CRE WP_361643782.1 ClpV</text>
<text transform="translate(1186.59 454.88) rotate(-37.36)" dy="1.6">ref Psp M18 WP_419028252.1 ClpV</text>
<text transform="translate(1192.37 462.6) rotate(-36.35)" dy="1.6">ref Pa WP_036922143.1 ClpV</text>
<text transform="translate(1198.02 470.42) rotate(-35.34)" dy="1.6">ref abb F9676 1432 WP_377602077.1 ClpV</text>
<text transform="translate(1203.53 478.33) rotate(-34.34)" dy="1.6">ref Pae PAO1 CRE WP_041309211.1 ClpV</text>
<text transform="translate(1208.9 486.34) rotate(-33.33)" dy="1.6">ref Pst PAO1 1432 WP_149958840.1 ClpV</text>
<text transform="translate(1214.13 494.45) rotate(-32.33)" dy="1.6">ref Psy T2436 WP_863599704.1 ClpV</text>
<text transform="translate(1219.22 502.65) rotate(-31.32)" dy="1.6">ref Pp PA14 RIVM WP_331092611.1 ClpV</text>
<text transform="translate(1224.16 510.93) rotate(-30.32)" dy="1.6">ref Pa T2436 S2 WP_361524102.1 ClpV</text>
<text transform="translate(1228.95 519.3) rotate(-29.31)" dy="1.6">ref abb LESB58 pl1 WP_947427413.1 ClpV</text>
<text transform="translate(1233.6 527.75) rotate(-28.3)" dy="1.6">ref abb DK2 S2 WP_367965244.1 ClpV</text>
<text transform="translate(1238.1 536.28) rotate(-27.3)" dy="1.6">ref Pfl DK2 CRE WP_155328744.1 ClpV</text>
<text transform="translate(1242.45 544.89) rotate(-26.29)" dy="1.6">ref Pfl LESB58 WP_920855646.1 ClpV</text>
<text transform="translate(1246.65 553.58) rotate(-25.29)" dy="1.6">ref Pa PA7 WP_586657848.1 ClpV</text>
<text transform="translate(1250.69 562.33) rotate(-24.28)" dy="1.6">ref Pa M18 1432 WP_150335919.1 ClpV</text>
<text transform="translate(1254.58 571.16) rotate(-23.28)" dy="1.6">ref Pae WP_028490088.1 ClpV</text>
<text transform="translate(1258.31 580.05) rotate(-22.27)" dy="1.6">ref Pae SCV20265 WP_558162622.1 ClpV</text>
<text transform="translate(1261.89 589.01) rotate(-21.26)" dy="1.6">ref Ec YL84 WP_858377450.1 ClpV</text>
<text transform="translate(1265.31 598.03) rotate(-20.26)" dy="1.6">ref aeb DK2 WP_837255259.1 ClpV</text>
<text transform="translate(1268.57 607.11) rotate(-19.25)" dy="1.6">ref Pae PA7 S2 WP_804902028.1 ClpV</text>
<text transform="translate(1271.67 616.24) rotate(-18.25)" dy="1.6">ref Pst Ocean-1175 WP_387268256.1 ClpV</text>
<text transform="translate(1274.61 625.43) rotate(-17.24)" dy="1.6">ref Ec PA14 WP_182385305.1 ClpV</text>
<text transform="translate(1277.39 634.67) rotate(-16.24)" dy="1.6">ref aeb DK2 WP_512186130.1 ClpV</text>
<text transform="translate(1280 643.95) rotate(-15.23)" dy="1.6">ref Psy RIVM-ST111 WP_184759341.1 ClpV</text>
<text transform="translate(1282.45 653.28) rotate(-14.22)" dy="1.6">ref Psy WP_241010646.1 ClpV</text>
<text transform="translate(1284.74 662.65) rotate(-13.22)" dy="1.6">ref Pfl ATCC27853 WP_731928342.1 ClpV</text>
<text transform="translate(1286.86 672.06) rotate(-12.21)" dy="1.6">ref Pst ATCC27853 WP_786200516.1 ClpV</text>
<text transform="translate(1288.82 681.5) rotate(-11.21)" dy="1.6">ref Ec F9676 WP_256150694.1 ClpV</text>
<text transform="translate(1290.61 690.98) rotate(-10.2)" dy="1.6">ref abb ST235 WP_964504356.1 ClpV</text>
<text transform="translate(1292.24 700.49) rotate(-9.2)" dy="1.6">ref Pfl PA14 WP_330689078.1 ClpV</text>
<text transform="translate(1293.7 710.02) rotate(-8.19)" dy="1.6">ref Pa PB368 WP_567757180.1 ClpV</text>
<text transform="translate(1294.99 719.58) rotate(-7.18)" dy="1.6">ref aeb SJTD-1 CRE WP_951626397.1 ClpV</text>
<text transform="translate(1296.11 729.16) rotate(-6.18)" dy="1.6">ref Ec DSM50071 WP_140065851.1 ClpV</text>
<text transform="translate(1297.06 738.76) rotate(-5.17)" dy="1.6">ref Pae NCGM2.S1 WP_478263199.1 ClpV</text>
<text transform="translate(1297.85 748.37) rotate(-4.17)" dy="1.6">ref Ec SCV20265 WP_138432303.1 ClpV</text>
<text transform="translate(1298.46 758) rotate(-3.16)" dy="1.6">ref Ec B136-33 WP_125263951.1 ClpV</text>
<text transform="translate(1298.91 767.64) rotate(-2.16)" dy="1.6">ref Pae WP_170446001.1 ClpV</text>
<text transform="translate(1299.19 777.28) rotate(-1.15)" dy="1.6">ref Pae WP_137192607.1 ClpV</text>
<text transform="translate(1299.3 786.92) rotate(-0.14)" dy="1.6">ref abb DSM50071 WP_275478718.1 ClpV</text>
<text transform="translate(1299.24 796.57) rotate(0.86)" dy="1.6">ref Ec PA7 WP_315507015.1 ClpV</text>
<text transform="translate(1299.01 806.21) rotate(1.87)" dy="1.6">ref Pa DK2 WP_186615409.1 ClpV</text>
<text transform="translate(1298.61 815.85) rotate(2.87)" dy="1.6">ref Pae WP_305832376.1 ClpV</text>
<text transform="translate(1298.04 825.48) rotate(3.88)" dy="1.6">ref Pfl M18 WP_476782506.1 ClpV</text>
<text transform="translate(1297.3 835.09) rotate(4.89)" dy="1.6">ref Pp SCV20265 WP_467461934.1 ClpV</text>
<text transform="translate(1296.4 844.7) rotate(5.89)" dy="1.6">ref aeb ATCC27853 WP_017656481.1 ClpV</text>
<text transform="translate(1295.32 854.28) rotate(6.9)" dy="1.6">ref abb WP_421141001.1 ClpV</text>
<text transform="translate(1294.08 863.85) rotate(7.9)" dy="1.6">ref Psy CRE2a WP_696960996.1 ClpV</text>
<text transform="translate(1292.67 873.39) rotate(8.91)" dy="1.6">ref Pa LESB58 WP_739379450.1 ClpV</text>
<text transform="translate(1291.09 882.91) rotate(9.91)" dy="1.6">ref Pa PA14 WP_032637657.1 ClpV</text>
<text transform="translate(1289.35 892.39) rotate(10.92)" dy="1.6">ref Pp T2436 pl1 WP_578884415.1 ClpV</text>
<text transform="translate(1287.44 901.85) rotate(11.93)" dy="1.6">ref aeb SCV20265 WP_462708022.1 ClpV</text>
<text transform="translate(1285.36 911.27) rotate(12.93)" dy="1.6">ref Pae PAO1 77 WP_199181802.1 ClpV</text>
<text transform="translate(1283.12 920.65) rotate(13.94)" dy="1.6">ref Ec F9676 WP_284255456.1 ClpV</text>
<text transform="translate(1280.72 929.99) rotate(14.94)" dy="1.6">ref Pst PDAAR0115 WP_560125354.1 ClpV</text>
<text transform="translate(1278.15 939.29) rotate(15.95)" dy="1.6">ref Psy VRFPA04 pl1 WP_533314652.1 ClpV</text>
<text transform="translate(1275.42 948.54) rotate(16.95)" dy="1.6">ref Psp CRE2a WP_683870459.1 ClpV</text>
<text transform="translate(1272.52 957.74) rotate(17.96)" dy="1.6">ref Psp PB368 WP_442321913.1 ClpV</text>
<text transform="translate(1269.47 966.89) rotate(18.97)" dy="1.6">ref Pae WP_966661819.1 ClpV</text>
<text transform="translate(1266.26 975.98) rotate(19.97)" dy="1.6">ref Psp VRFPA04 WP_567671469.1 ClpV</text>
<text transform="translate(1262.88 985.02) rotate(20.98)" dy="1.6">ref Pae M18 WP_811673077.1 ClpV</text>
<text transform="translate(1259.35 993.99) rotate(21.98)" dy="1.6">ref Pst Ocean-1175 1432 WP_697947146.1 ClpV</text>
<text transform="translate(1255.66 1002.91) rotate(22.99)" dy="1.6">ref Ec WP_804104626.1 ClpV</text>
<text transform="translate(1251.82 1011.75) rotate(23.99)" dy="1.6">ref Psp PA14 WP_410893150.1 ClpV</text>
<text transform="translate(1247.82 1020.53) rotate(25)" dy="1.6">ref Pae WP_608788583.1 ClpV</text>
<text transform="translate(1243.66 1029.23) rotate(26.01)" dy="1.6">ref abb PB368 RIVM WP_429975530.1 ClpV</text>
<text transform="translate(1239.36 1037.87) rotate(27.01)" dy="1.6">ref Pae PA14 WP_236832742.1 ClpV</text>
<text transform="translate(1234.9 1046.42) rotate(28.02)" dy="1.6">ref Psp PDAAR0115 RIVM WP_388667461.1 ClpV</text>
<text transform="translate(1230.3 1054.9) rotate(29.02)" dy="1.6">ref Psy F9676 1432 WP_378965145.1 ClpV</text>
<text transform="translate(1225.54 1063.29) rotate(30.03)" dy="1.6">ref Ec FDAARGOS570 WP_620830750.1 ClpV</text>
<text transform="translate(1220.64 1071.6) rotate(31.03)" dy="1.6">ref Pst CRE2a WP_505121414.1 ClpV</text>
<text transform="translate(1215.6 1079.82) rotate(32.04)" dy="1.6">ref Pa FDAARGOS570 WP_993227429.1 ClpV</text>
<text transform="translate(1210.41 1087.95) rotate(33.05)" dy="1.6">ref abb VRFPA04 WP_992860184.1 ClpV</text>
<text transform="translate(1205.08 1095.99) rotate(34.05)" dy="1.6">ref Ec M18 WP_871563887.1 ClpV</text>
<text transform="translate(1199.61 1103.93) rotate(35.06)" dy="1.6">ref abb AR439 RIVM WP_040047073.1 ClpV</text>
<text transform="translate(1194 1111.78) rotate(36.06)" dy="1.6">ref Pa W60856 1432 WP_778437572.1 ClpV</text>
<text transform="translate(1188.25 1119.53) rotate(37.07)" dy="1.6">ref abb PDAAR0115 chr WP_839389183.1 ClpV</text>
<text transform="translate(1182.37 1127.17) rotate(38.07)" dy="1.6">ref Pfl W60856 WP_469598336.1 ClpV</text>
<text transform="translate(1176.36 1134.71) rotate(39.08)" dy="1.6">ref abb PA7 pl1 WP_536151060.1 ClpV</text>
<text transform="translate(1170.21 1142.14) rotate(40.09)" dy="1.6">ref abb M18 WP_050912123.1 ClpV</text>
<text transform="translate(1163.93 1149.47) rotate(41.09)" dy="1.6">ref Pae DK2 WP_476852241.1 ClpV</text>
<text transform="translate(1157.53 1156.68) rotate(42.1)" dy="1.6">WP_532452034.1 abb NCGM2.S1 ClpA</text>
<text transform="translate(1151 1163.78) rotate(43.1)" dy="1.6">WP_250173016.1 Pae PA14 T2436 ClpA</text>
<text transform="translate(1144.35 1170.77) rotate(44.11)" dy="1.6">WP_742566144.1 Pfl F9676 T2436 ClpA</text>
<text transform="translate(1137.57 1177.63) rotate(45.11)" dy="1.6">WP_985100744.1 aeb SCV20265 CRE2a ClpA</text>
<text transform="translate(1130.68 1184.38) rotate(46.12)" dy="1.6">WP_126732381.1 Pp CRE2a ClpA</text>
<text transform="translate(1123.67 1191) rotate(47.13)" dy="1.6">WP_033866152.1 Pae PDAAR0115 ClpA</text>
<text transform="translate(1116.54 1197.51) rotate(48.13)" dy="1.6">WP_839172276.1 Pp AR439 ClpA</text>
<text transform="translate(1109.31 1203.88) rotate(49.14)" dy="1.6">WP_135675377.1 Pa SCV20265 DSM50071 ClpA</text>
<text transform="translate(1101.96 1210.13) rotate(50.14)" dy="1.6">WP_793637800.1 ATCC27853 ClpA</text>
<text transform="translate(1094.5 1216.24) rotate(51.15)" dy="1.6">WP_917422697.1 LESB58 ClpA</text>
<text transform="translate(1086.93 1222.23) rotate(52.16)" dy="1.6">WP_247943944.1 Pa PDAAR0115 ClpA</text>
<text transform="translate(1079.26 1228.08) rotate(53.16)" dy="1.6">WP_667538652.1 Pae VRFPA04 ClpA</text>
<text transform="translate(1071.49 1233.79) rotate(54.17)" dy="1.6">WP_996161231.1 Pst RIVM-ST111 ClpA</text>
<text transform="translate(1063.62 1239.37) rotate(55.17)" dy="1.6">WP_533237473.1 Pp NCGM2.S1 ClpA</text>
<text transform="translate(1055.66 1244.81) rotate(56.18)" dy="1.6">WP_122484583.1 Psp SCV20265 ClpA</text>
<text transform="translate(1047.6 1250.11) rotate(57.18)" dy="1.6">WP_656707858.1 Pp LESB58 ClpA</text>
<text transform="translate(1039.45 1255.26) rotate(58.19)" dy="1.6">WP_700427324.1 Pae B136-33 T2436 ClpA</text>
<text transform="translate(1031.21 1260.28) rotate(59.2)" dy="1.6">WP_727580479.1 Psp Ocean-1175 LESB58 ClpA</text>
<text transform="translate(1022.88 1265.14) rotate(60.2)" dy="1.6">WP_086478806.1 Psp W60856 ClpA</text>
<text transform="translate(1014.47 1269.86) rotate(61.21)" dy="1.6">WP_293030360.1 Ocean-1175 ClpA</text>
<text transform="translate(1005.97 1274.43) rotate(62.21)" dy="1.6">WP_056171307.1 FDAARGOS570 ClpA</text>
<text transform="translate(997.4 1278.86) rotate(63.22)" dy="1.6">WP_504151408.1 NCGM2.S1 ClpA</text>
<text transform="translate(988.75 1283.13) rotate(64.22)" dy="1.6">WP_865968933.1 Ocean-1175 ClpA</text>
<text transform="translate(980.03 1287.24) rotate(65.23)" dy="1.6">WP_397907407.1 aeb EPAK-Sb LESB58 ClpA</text>
<text transform="translate(971.24 1291.21) rotate(66.24)" dy="1.6">WP_356000449.1 aeb Ocean-1175 SJTD-1 ClpA</text>
<text transform="translate(962.37 1295.02) rotate(67.24)" dy="1.6">WP_301572550.1 Pa DK2 DSM50071 ClpA</text>
<text transform="translate(953.45 1298.67) rotate(68.25)" dy="1.6">WP_977277964.1 aeb VRFPA04 ClpA</text>
<text transform="translate(944.46 1302.17) rotate(69.25)" dy="1.6">WP_800963794.1 Pfl SJTD-1 ClpA</text>
<text transform="translate(935.41 1305.5) rotate(70.26)" dy="1.6">WP_327506770.1 Pfl AR439 EPAK-Sb ClpA</text>
<text transform="translate(926.3 1308.68) rotate(71.26)" dy="1.6">WP_580802215.1 Psy ATCC27853 ClpA</text>
<text transform="translate(917.14 1311.7) rotate(72.27)" dy="1.6">WP_576998418.1 Psp W60856 ClpA</text>
<text transform="translate(907.93 1314.56) rotate(73.28)" dy="1.6">WP_133849509.1 Pst SJTD-1 PAO1 ClpA</text>
<text transform="translate(898.66 1317.25) rotate(74.28)" dy="1.6">WP_887395082.1 EPAK-Sb ClpA</text>
<text transform="translate(889.36 1319.78) rotate(75.29)" dy="1.6">WP_636605435.1 Pa NCGM2.S1 ClpA</text>
<text transform="translate(880.01 1322.15) rotate(76.29)" dy="1.6">WP_163929825.1 abb T2436 PB368 ClpA</text>
<text transform="translate(870.62 1324.35) rotate(77.3)" dy="1.6">WP_463554073.1 Ec ATCC27853 ClpA</text>
<text transform="translate(861.19 1326.39) rotate(78.3)" dy="1.6">WP_949276413.1 PDAAR0115 ClpA</text>
<text transform="translate(851.73 1328.26) rotate(79.31)" dy="1.6">WP_722732807.1 Pae NCGM2.S1 YL84 ClpA</text>
<text transform="translate(842.23 1329.97) rotate(80.32)" dy="1.6">WP_368938443.1 PA7 ClpA</text>
<text transform="translate(832.71 1331.51) rotate(81.32)" dy="1.6">WP_219039677.1 Pst NCGM2.S1 ClpA</text>
<text transform="translate(823.16 1332.88) rotate(82.33)" dy="1.6">WP_486099451.1 AR439 ClpA</text>
<text transform="translate(813.59 1334.08) rotate(83.33)" dy="1.6">WP_099506456.1 Psp VRFPA04 ClpA</text>
<text transform="translate(804 1335.12) rotate(84.34)" dy="1.6">WP_048288944.1 abb PA7 VRFPA04 ClpA</text>
<text transform="translate(794.4 1335.99) rotate(85.34)" dy="1.6">WP_034872557.1 PDAAR0115 ClpA</text>
<text transform="translate(784.78 1336.69) rotate(86.35)" dy="1.6">WP_015245914.1 Psy PB368 M18 ClpA</text>
<text transform="translate(775.15 1337.22) rotate(87.36)" dy="1.6">WP_833073106.1 SCV20265 ClpA</text>
<text transform="translate(765.51 1337.58) rotate(88.36)" dy="1.6">WP_418265083.1 abb VRFPA04 ClpA</text>
<text transform="translate(755.86 1337.77) rotate(89.37)" dy="1.6">WP_195054679.1 Pfl ST235 ClpA</text>
<text transform="translate(746.22 1337.79) rotate(270.37)" dy="1.6" text-anchor="end">WP_058100915.1 DSM50071 ClpA</text>
<text transform="translate(736.57 1337.64) rotate(271.38)" dy="1.6" text-anchor="end">WP_927713060.1 Psp ATCC27853 SJTD-1 ClpA</text>
<text transform="translate(726.93 1337.32) rotate(272.39)" dy="1.6" text-anchor="end">WP_288496649.1 Psy ATCC27853 ClpA</text>
<text transform="translate(717.3 1336.84) rotate(273.39)" dy="1.6" text-anchor="end">WP_861724438.1 FDAARGOS570 ClpA</text>
<text transform="translate(707.68 1336.18) rotate(274.4)" dy="1.6" text-anchor="end">WP_007410019.1 Psy Ocean-1175 ClpA</text>
<text transform="translate(698.07 1335.36) rotate(275.4)" dy="1.6" text-anchor="end">WP_323252967.1 FDAARGOS570 ClpA</text>
<text transform="translate(688.47 1334.37) rotate(276.41)" dy="1.6" text-anchor="end">WP_396076170.1 aeb NCGM2.S1 ClpA</text>
<text transform="translate(678.9 1333.21) rotate(277.41)" dy="1.6" text-anchor="end">WP_387020905.1 Ec CRE2a PAO1 ClpA</text>
<text transform="translate(669.34 1331.88) rotate(278.42)" dy="1.6" text-anchor="end">WP_194872130.1 Psp RIVM-ST111 ClpA</text>
<text transform="translate(659.81 1330.38) rotate(279.43)" dy="1.6" text-anchor="end">WP_214276927.1 aeb ATCC27853 ClpA</text>
<text transform="translate(650.31 1328.72) rotate(280.43)" dy="1.6" text-anchor="end">WP_204586778.1 W60856 ClpA</text>
<text transform="translate(640.84 1326.89) rotate(281.44)" dy="1.6" text-anchor="end">WP_383993461.1 Pfl SCV20265 ClpA</text>
<text transform="translate(631.4 1324.89) rotate(282.44)" dy="1.6" text-anchor="end">WP_789266970.1 Pae AR439 F9676 ClpA</text>
<text transform="translate(622 1322.73) rotate(283.45)" dy="1.6" text-anchor="end">WP_082327238.1 aeb SCV20265 ClpA</text>
<text transform="translate(612.64 1320.41) rotate(284.45)" dy="1.6" text-anchor="end">WP_544389200.1 Psp FDAARGOS570 ClpA</text>
<text transform="translate(603.32 1317.92) rotate(285.46)" dy="1.6" text-anchor="end">WP_450182336.1 SCV20265 ClpA</text>
<text transform="translate(594.05 1315.27) rotate(286.47)" dy="1.6" text-anchor="end">WP_090188784.1 Pfl NCGM2.S1 SCV20265 ClpA</text>
<text transform="translate(584.83 1312.45) rotate(287.47)" dy="1.6" text-anchor="end">WP_792370266.1 Pfl T2436 ClpA</text>
<text transform="translate(575.65 1309.47) rotate(288.48)" dy="1.6" text-anchor="end">WP_287635677.1 Pa B136-33 PA7 ClpA</text>
<text transform="translate(566.53 1306.34) rotate(289.48)" dy="1.6" text-anchor="end">WP_008539734.1 Pst NCGM2.S1 ClpA</text>
<text transform="translate(557.46 1303.04) rotate(290.49)" dy="1.6" text-anchor="end">WP_471835452.1 PA7 ClpA</text>
<text transform="translate(548.46 1299.58) rotate(291.49)" dy="1.6" text-anchor="end">WP_083414580.1 Psy RIVM-ST111 ClpA</text>
<text transform="translate(539.52 1295.97) rotate(292.5)" dy="1.6" text-anchor="end">WP_381329424.1 Psy W60856 LESB58 ClpA</text>
<text transform="translate(530.64 1292.2) rotate(293.51)" dy="1.6" text-anchor="end">WP_212456458.1 SJTD-1 ClpK</text>
<text transform="translate(521.83 1288.28) rotate(294.51)" dy="1.6" text-anchor="end">WP_599154674.1 abb DK2 DK2 ClpK</text>
<text transform="translate(513.08 1284.2) rotate(295.52)" dy="1.6" text-anchor="end">WP_183719531.1 Pp NCGM2.S1 CRE2a ClpK</text>
<text transform="translate(504.42 1279.97) rotate(296.52)" dy="1.6" text-anchor="end">WP_387163914.1 Pfl CRE2a PAO1 ClpK</text>
<text transform="translate(495.82 1275.59) rotate(297.53)" dy="1.6" text-anchor="end">WP_180950694.1 Pa PA14 ClpK</text>
<text transform="translate(487.31 1271.05) rotate(298.53)" dy="1.6" text-anchor="end">WP_140877012.1 Psp DK2 PA14 ClpK</text>
<text transform="translate(478.88 1266.37) rotate(299.54)" dy="1.6" text-anchor="end">WP_927487912.1 RIVM-ST111 ClpK</text>
<text transform="translate(470.53 1261.54) rotate(300.55)" dy="1.6" text-anchor="end">WP_559775168.1 Pae PDAAR0115 ClpK</text>
<text transform="translate(462.26 1256.57) rotate(301.55)" dy="1.6" text-anchor="end">WP_589102260.1 Ec ATCC27853 B136-33 ClpK</text>
<text transform="translate(454.09 1251.45) rotate(302.56)" dy="1.6" text-anchor="end">WP_036688752.1 Ec FDAARGOS570 ClpK</text>
<text transform="translate(446.01 1246.19) rotate(303.56)" dy="1.6" text-anchor="end">WP_641296913.1 Pfl PA7 Ocean-1175 ClpK</text>
<text transform="translate(438.01 1240.78) rotate(304.57)" dy="1.6" text-anchor="end">WP_130350753.1 aeb NCGM2.S1 ClpK</text>
<text transform="translate(430.12 1235.24) rotate(305.57)" dy="1.6" text-anchor="end">WP_906116461.1 Pae LESB58 PDAAR0115 ClpK</text>
<text transform="translate(422.32 1229.56) rotate(306.58)" dy="1.6" text-anchor="end">WP_860770825.1 Pae RIVM-ST111 ClpK</text>
<text transform="translate(414.63 1223.74) rotate(307.59)" dy="1.6" text-anchor="end">WP_007187953.1 Psy W60856 PA14 ClpK</text>
<text transform="translate(407.04 1217.79) rotate(308.59)" dy="1.6" text-anchor="end">WP_277900383.1 aeb M18 ClpK</text>
<text transform="translate(399.55 1211.71) rotate(309.6)" dy="1.6" text-anchor="end">WP_265374009.1 CRE2a ClpB</text>
<text transform="translate(392.17 1205.5) rotate(310.6)" dy="1.6" text-anchor="end">WP_501984529.1 aeb F9676 PB368 ClpB</text>
<text transform="translate(384.91 1199.16) rotate(311.61)" dy="1.6" text-anchor="end">WP_875204440.1 Pfl FDAARGOS570 ClpB</text>
<text transform="translate(377.75 1192.69) rotate(312.61)" dy="1.6" text-anchor="end">WP_419316418.1 Pst Ocean-1175 ClpB</text>
<text transform="translate(370.71 1186.1) rotate(313.62)" dy="1.6" text-anchor="end">WP_045068847.1 EPAK-Sb ClpB</text>
<text transform="translate(363.79 1179.38) rotate(314.63)" dy="1.6" text-anchor="end">WP_839764817.1 Psy SJTD-1 ClpB</text>
<text transform="translate(356.98 1172.54) rotate(315.63)" dy="1.6" text-anchor="end">WP_905651801.1 Pst PB368 ClpB</text>
<text transform="translate(350.3 1165.59) rotate(316.64)" dy="1.6" text-anchor="end">WP_506529694.1 Psy LESB58 DK2 ClpB</text>
<text transform="translate(343.74 1158.52) rotate(317.64)" dy="1.6" text-anchor="end">WP_122965790.1 abb NCGM2.S1 PA7 ClpB</text>
<text transform="translate(337.3 1151.34) rotate(318.65)" dy="1.6" text-anchor="end">WP_396345483.1 Pfl PAO1 RIVM-ST111 ClpB</text>
<text transform="translate(330.99 1144.04) rotate(319.66)" dy="1.6" text-anchor="end">WP_004626640.1 Pp LESB58 W60856 ClpB</text>
<text transform="translate(324.81 1136.63) rotate(320.66)" dy="1.6" text-anchor="end">WP_963641527.1 ST235 ClpB</text>
<text transform="translate(318.76 1129.12) rotate(321.67)" dy="1.6" text-anchor="end">WP_070624105.1 Psy PAO1 ClpB</text>
<text transform="translate(312.85 1121.5) rotate(322.67)" dy="1.6" text-anchor="end">WP_235723463.1 Pst DK2 PA7 ClpB</text>
<text transform="translate(307.07 1113.78) rotate(323.68)" dy="1.6" text-anchor="end">WP_181265475.1 Pa DSM50071 ClpB</text>
<text transform="translate(301.42 1105.96) rotate(324.68)" dy="1.6" text-anchor="end">WP_178309131.1 abb M18 ATCC27853 ClpB</text>
<text transform="translate(295.91 1098.04) rotate(325.69)" dy="1.6" text-anchor="end">WP_719945776.1 Pfl RIVM-ST111 ClpB</text>
<text transform="translate(290.55 1090.02) rotate(326.7)" dy="1.6" text-anchor="end">WP_903931785.1 Psy PAO1 F9676 ClpB</text>
<text transform="translate(285.32 1081.92) rotate(327.7)" dy="1.6" text-anchor="end">WP_265296862.1 YL84 ClpB</text>
<text transform="translate(280.24 1073.72) rotate(328.71)" dy="1.6" text-anchor="end">WP_886580502.1 Pa AR439 PAO1 ClpB</text>
<text transform="translate(275.3 1065.43) rotate(329.71)" dy="1.6" text-anchor="end">WP_904207843.1 EPAK-Sb ClpB</text>
<text transform="translate(270.51 1057.06) rotate(330.72)" dy="1.6" text-anchor="end">WP_610572909.1 aeb SJTD-1 VRFPA04 ClpB</text>
<text transform="translate(265.87 1048.61) rotate(331.72)" dy="1.6" text-anchor="end">WP_304809352.1 ATCC27853 ClpB</text>
<text transform="translate(261.37 1040.07) rotate(332.73)" dy="1.6" text-anchor="end">WP_484203707.1 Ec RIVM-ST111 ClpB</text>
<text transform="translate(257.03 1031.46) rotate(333.74)" dy="1.6" text-anchor="end">WP_388054851.1 NCGM2.S1 ClpB</text>
<text transform="translate(252.84 1022.77) rotate(334.74)" dy="1.6" text-anchor="end">WP_839014182.1 Ec RIVM-ST111 ClpB</text>
<text transform="translate(248.8 1014.02) rotate(335.75)" dy="1.6" text-anchor="end">WP_504808914.1 aeb DSM50071 ClpB</text>
<text transform="translate(244.91 1005.19) rotate(336.75)" dy="1.6" text-anchor="end">WP_688889189.1 Psy PAO1 M18 ClpB</text>
<text transform="translate(241.18 996.29) rotate(337.76)" dy="1.6" text-anchor="end">WP_853771299.1 abb VRFPA04 RIVM-ST111 ClpB</text>
<text transform="translate(237.61 987.33) rotate(338.76)" dy="1.6" text-anchor="end">WP_724859881.1 Ec ST235 ATCC27853 ClpB</text>
<text transform="translate(234.2 978.31) rotate(339.77)" dy="1.6" text-anchor="end">WP_866013408.1 abb PAO1 SCV20265 ClpB</text>
<text transform="translate(230.94 969.23) rotate(340.78)" dy="1.6" text-anchor="end">WP_714002778.1 Pfl RIVM-ST111 ClpB</text>
<text transform="translate(227.85 960.1) rotate(341.78)" dy="1.6" text-anchor="end">WP_670033577.1 Psp AR439 EPAK-Sb ClpB</text>
<text transform="translate(224.91 950.91) rotate(342.79)" dy="1.6" text-anchor="end">WP_438684846.1 NCGM2.S1 ClpB</text>
<text transform="translate(222.14 941.67) rotate(343.79)" dy="1.6" text-anchor="end">WP_731512967.1 Pp W60856 ClpB</text>
<text transform="translate(219.53 932.38) rotate(344.8)" dy="1.6" text-anchor="end">WP_387041699.1 PA7 ClpB</text>
<text transform="translate(217.08 923.05) rotate(345.8)" dy="1.6" text-anchor="end">WP_762244213.1 Pfl ATCC27853 ClpB</text>
<text transform="translate(214.8 913.68) rotate(346.81)" dy="1.6" text-anchor="end">WP_439750221.1 aeb W60856 T2436 ClpB</text>
<text transform="translate(212.68 904.27) rotate(347.82)" dy="1.6" text-anchor="end">WP_533894431.1 F9676 ClpB</text>
<text transform="translate(210.72 894.83) rotate(348.82)" dy="1.6" text-anchor="end">WP_114684398.1 CRE2a ClpB</text>
<text transform="translate(208.94 885.35) rotate(349.83)" dy="1.6" text-anchor="end">WP_388854017.1 aeb ATCC27853 ClpB</text>
<text transform="translate(207.32 875.84) rotate(350.83)" dy="1.6" text-anchor="end">WP_539983010.1 Psy RIVM-ST111 ClpB</text>
<text transform="translate(205.86 866.3) rotate(351.84)" dy="1.6" text-anchor="end">WP_214857221.1 abb ATCC27853 M18 ClpB</text>
<text transform="translate(204.58 856.74) rotate(352.84)" dy="1.6" text-anchor="end">WP_496667912.1 Psp CRE2a PB368 ClpB</text>
<text transform="translate(203.46 847.16) rotate(353.85)" dy="1.6" text-anchor="end">WP_849818411.1 Pa DSM50071 ClpB</text>
<text transform="translate(202.51 837.56) rotate(354.86)" dy="1.6" text-anchor="end">WP_243698441.1 Pfl F9676 NCGM2.S1 ClpB</text>
<text transform="translate(201.73 827.95) rotate(355.86)" dy="1.6" text-anchor="end">WP_062129080.1 Pp SCV20265 ClpB</text>
<text transform="translate(201.12 818.32) rotate(356.87)" dy="1.6" text-anchor="end">WP_229247871.1 Pst B136-33 T2436 ClpB</text>
<text transform="translate(200.68 808.69) rotate(357.87)" dy="1.6" text-anchor="end">WP_624459037.1 Pst W60856 PDAAR0115 ClpB</text>
<text transform="translate(200.41 799.05) rotate(358.88)" dy="1.6" text-anchor="end">WP_434107303.1 Psy NCGM2.S1 ClpB</text>
<text transform="translate(200.3 789.4) rotate(359.89)" dy="1.6" text-anchor="end">WP_697747584.1 Pae PDAAR0115 ClpB</text>
<text transform="translate(200.37 779.76) rotate(360.89)" dy="1.6" text-anchor="end">WP_813831516.1 CRE2a ClpB</text>
<text transform="translate(200.6 770.11) rotate(361.9)" dy="1.6" text-anchor="end">WP_110970274.1 Psy FDAARGOS570 ClpB</text>
<text transform="translate(201 760.48) rotate(362.9)" dy="1.6" text-anchor="end">WP_806667676.1 Psy Ocean-1175 ClpB</text>
<text transform="translate(201.58 750.85) rotate(363.91)" dy="1.6" text-anchor="end">WP_765034318.1 Pfl NCGM2.S1 ClpB</text>
<text transform="translate(202.32 741.23) rotate(364.91)" dy="1.6" text-anchor="end">WP_437721175.1 B136-33 ClpB</text>
<text transform="translate(203.23 731.63) rotate(365.92)" dy="1.6" text-anchor="end">WP_937315509.1 Pae B136-33 ClpB</text>
<text transform="translate(204.31 722.04) rotate(366.93)" dy="1.6" text-anchor="end">WP_640931031.1 Pa LESB58 B136-33 ClpB</text>
<text transform="translate(205.56 712.48) rotate(367.93)" dy="1.6" text-anchor="end">WP_759040589.1 Psp EPAK-Sb F9676 ClpB</text>
<text transform="translate(206.97 702.94) rotate(368.94)" dy="1.6" text-anchor="end">WP_384706871.1 aeb T2436 PB368 ClpB</text>
<text transform="translate(208.55 693.42) rotate(369.94)" dy="1.6" text-anchor="end">WP_223340253.1 VRFPA04 ClpB</text>
<text transform="translate(210.3 683.94) rotate(370.95)" dy="1.6" text-anchor="end">WP_622192068.1 Psp YL84 ClpB</text>
<text transform="translate(212.22 674.48) rotate(371.95)" dy="1.6" text-anchor="end">WP_944765943.1 FDAARGOS570 ClpB</text>
<text transform="translate(214.3 665.07) rotate(372.96)" dy="1.6" text-anchor="end">WP_458563199.1 PA7 ClpB</text>
<text transform="translate(216.54 655.68) rotate(373.97)" dy="1.6" text-anchor="end">WP_264957624.1 Psp AR439 M18 ClpB</text>
<text transform="translate(218.95 646.35) rotate(374.97)" dy="1.6" text-anchor="end">WP_914549559.1 aeb T2436 ST235 ClpB</text>
<text transform="translate(221.53 637.05) rotate(375.98)" dy="1.6" text-anchor="end">WP_943703161.1 PDAAR0115 ClpB</text>
<text transform="translate(224.26 627.8) rotate(376.98)" dy="1.6" text-anchor="end">WP_168199372.1 SJTD-1 ClpB</text>
<text transform="translate(227.16 618.6) rotate(377.99)" dy="1.6" text-anchor="end">WP_042326391.1 Pfl DSM50071 ClpB</text>
<text transform="translate(230.22 609.45) rotate(378.99)" dy="1.6" text-anchor="end">WP_773018956.1 Pa PA14 ClpB</text>
<text transform="translate(233.44 600.36) rotate(380)" dy="1.6" text-anchor="end">WP_297049379.1 abb B136-33 ClpB</text>
</g>
<path d="M0,1284.3H1772" stroke="#fff" stroke-width="1.3"/>
<text x="1.15" y="66" font-family="Liberation Sans, Arial, sans-serif" font-weight="bold" font-size="90.4" fill="#000">A</text>
<text x="105.45" y="78.1" font-family="Liberation Sans, Arial, sans-serif" font-weight="bold" font-size="40.1" fill="#555" textLength="278.1" lengthAdjust="spacingAndGlyphs">Tree scale: 0.1</text>
<g stroke="#000" stroke-width="3" fill="none">
<line x1="414.3" y1="66" x2="550.8" y2="66"/>
<line x1="414.8" y1="57.5" x2="414.8" y2="75.5"/>
<line x1="550.3" y1="57.5" x2="550.3" y2="75.5"/>
<line x1="482.6" y1="66" x2="482.6" y2="72"/>
</g>
<g id="legend">
<rect x="1454" y="35" width="313.5" height="561" fill="#fff" stroke="#e6e6e6" stroke-width="1.2"/>
<text x="1468.6" y="86" font-family="Liberation Sans, Arial, sans-serif" font-weight="bold" font-size="46.3" fill="#000" textLength="283.1" lengthAdjust="spacingAndGlyphs">Clp ATPases</text>
<line x1="1463" y1="112.8" x2="1758.8" y2="112.8" stroke="#444" stroke-width="1.5"/>
<rect x="1469.1" y="134.6" width="62.7" height="62.4" fill="#A64D79" stroke="#1a1a1a" stroke-width="1.4"/>
<text x="1562.6" y="179.9" font-family="Liberation Sans, Arial, sans-serif" font-size="46.4" fill="#000" textLength="103" lengthAdjust="spacingAndGlyphs">ClpB</text>
<rect x="1469.1" y="228.2" width="62.7" height="62.4" fill="#6FA8DC" stroke="#1a1a1a" stroke-width="1.4"/>
<text x="1562.6" y="273.5" font-family="Liberation Sans, Arial, sans-serif" font-size="46.4" fill="#000" textLength="103" lengthAdjust="spacingAndGlyphs">ClpK</text>
<rect x="1469.1" y="321.8" width="62.7" height="62.4" fill="#93C47D" stroke="#1a1a1a" stroke-width="1.4"/>
<text x="1562.6" y="367.1" font-family="Liberation Sans, Arial, sans-serif" font-size="46.4" fill="#000" textLength="103" lengthAdjust="spacingAndGlyphs">ClpA</text>
<rect x="1469.1" y="415.4" width="62.7" height="62.4" fill="#E06666" stroke="#1a1a1a" stroke-width="1.4"/>
<text x="1562.6" y="460.7" font-family="Liberation Sans, Arial, sans-serif" font-size="46.4" fill="#000" textLength="103" lengthAdjust="spacingAndGlyphs">ClpV</text>
<rect x="1469.1" y="509" width="62.7" height="62.4" fill="#F6B26B" stroke="#1a1a1a" stroke-width="1.4"/>
<text x="1562.6" y="554.3" font-family="Liberation Sans, Arial, sans-serif" font-size="46.4" fill="#000" textLength="103" lengthAdjust="spacingAndGlyphs">ClpX</text>
</g>
<g id="table">
<text transform="translate(1.43 1581.6) scale(0.939 1)" font-family="Liberation Sans, Arial, sans-serif" font-weight="bold" font-size="88.7" fill="#000">B</text>
<g stroke="#000" stroke-width="2.3">
<line x1="81.3" y1="1550.1" x2="1769.3" y2="1550.1"/>
<line x1="81.3" y1="1627.3" x2="1769.3" y2="1627.3"/>
<line x1="81.3" y1="2011.5" x2="1769.3" y2="2011.5"/>
</g>
<text x="503.1" y="1604" text-anchor="middle" font-family="Liberation Sans, Arial, sans-serif" fill="#000" font-size="43.6" textLength="209.8" lengthAdjust="spacingAndGlyphs">Clp ATPase</text>
<text x="1346.3" y="1604" text-anchor="middle" font-family="Liberation Sans, Arial, sans-serif" fill="#000" font-size="43.6" textLength="381.5" lengthAdjust="spacingAndGlyphs">Percentage Identity</text>
<text x="502.6" y="1680.5" text-anchor="middle" font-family="Liberation Sans, Arial, sans-serif" fill="#000" font-size="43.6" textLength="90.4" lengthAdjust="spacingAndGlyphs">ClpA</text>
<text x="1345.7" y="1680.5" text-anchor="middle" font-family="Liberation Sans, Arial, sans-serif" fill="#000" font-size="43.6" textLength="310.8" lengthAdjust="spacingAndGlyphs">98.68% to 100%</text>
<text x="502.6" y="1757.5" text-anchor="middle" font-family="Liberation Sans, Arial, sans-serif" fill="#000" font-size="43.6" textLength="90.4" lengthAdjust="spacingAndGlyphs">ClpB</text>
<text x="1345.7" y="1757.5" text-anchor="middle" font-family="Liberation Sans, Arial, sans-serif" fill="#000" font-size="43.6" textLength="310.8" lengthAdjust="spacingAndGlyphs">98.95% to 100%</text>
<text x="502.6" y="1834.6" text-anchor="middle" font-family="Liberation Sans, Arial, sans-serif" fill="#000" font-size="43.6" textLength="90.4" lengthAdjust="spacingAndGlyphs">ClpK</text>
<text x="1345.7" y="1834.6" text-anchor="middle" font-family="Liberation Sans, Arial, sans-serif" fill="#000" font-size="43.6" textLength="310.8" lengthAdjust="spacingAndGlyphs">93.68% to 100%</text>
<text x="502.6" y="1911.3" text-anchor="middle" font-family="Liberation Sans, Arial, sans-serif" fill="#000" font-size="43.6" textLength="90.4" lengthAdjust="spacingAndGlyphs">ClpX</text>
<text x="1345.7" y="1911.3" text-anchor="middle" font-family="Liberation Sans, Arial, sans-serif" fill="#000" font-size="43.6" textLength="310.8" lengthAdjust="spacingAndGlyphs">98.35% to 100%</text>
<text x="502.6" y="1988.2" text-anchor="middle" font-family="Liberation Sans, Arial, sans-serif" fill="#000" font-size="43.6" textLength="90.4" lengthAdjust="spacingAndGlyphs">ClpV</text>
<text x="1346.2" y="1988.2" text-anchor="middle" font-family="Liberation Sans, Arial, sans-serif" fill="#000" font-size="43.6" textLength="323.7" lengthAdjust="spacingAndGlyphs">46.66% to 100%.</text>
</g>
</svg>
</body></html>
